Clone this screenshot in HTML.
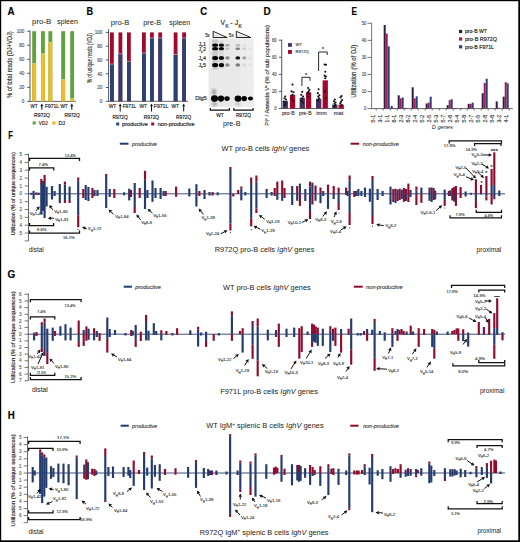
<!DOCTYPE html>
<html><head><meta charset="utf-8"><title>Figure</title>
<style>html,body{margin:0;padding:0;background:#fff;}svg{display:block;}
text{font-family:"Liberation Sans", sans-serif;stroke:#2a2a2a;stroke-width:0.16px;} text.ns{stroke:none;} text.lt{stroke:#555;stroke-width:0.12px;}</style></head>
<body><svg width="520" height="542" viewBox="0 0 520 542" font-family='"Liberation Sans", sans-serif' fill="#222">
<rect x="0" y="0" width="520" height="542" fill="#000"/>
<rect x="1.2" y="1.2" width="517.1" height="539.1" fill="#fff"/>
<text x="7.60" y="15.21" font-size="10.3" font-weight="bold" fill="#000" textLength="7.1" lengthAdjust="spacingAndGlyphs">A</text>
<text x="86.40" y="15.30" font-size="10.3" font-weight="bold" fill="#000" textLength="6.6" lengthAdjust="spacingAndGlyphs">B</text>
<text x="200.20" y="15.01" font-size="10.3" font-weight="bold" fill="#000" textLength="6.9" lengthAdjust="spacingAndGlyphs">C</text>
<text x="263.50" y="15.41" font-size="10.3" font-weight="bold" fill="#000" textLength="7.2" lengthAdjust="spacingAndGlyphs">D</text>
<text x="351.60" y="15.30" font-size="10.3" font-weight="bold" fill="#000" textLength="5.5" lengthAdjust="spacingAndGlyphs">E</text>
<text x="8.30" y="138.70" font-size="10.3" font-weight="bold" fill="#000" textLength="4.6" lengthAdjust="spacingAndGlyphs">F</text>
<text x="7.50" y="277.91" font-size="10.3" font-weight="bold" fill="#000" textLength="7.8" lengthAdjust="spacingAndGlyphs">G</text>
<text x="7.80" y="419.31" font-size="10.3" font-weight="bold" fill="#000" textLength="7.0" lengthAdjust="spacingAndGlyphs">H</text>
<line x1="30.00" y1="30.70" x2="30.00" y2="101.40" stroke="#444" stroke-width="0.9"/>
<line x1="27.20" y1="101.40" x2="30.00" y2="101.40" stroke="#444" stroke-width="0.9"/>
<text x="24.40" y="103.22" font-size="5.2" text-anchor="end" fill="#444" textLength="2.548" lengthAdjust="spacingAndGlyphs" class="lt">0</text>
<line x1="27.20" y1="87.36" x2="30.00" y2="87.36" stroke="#444" stroke-width="0.9"/>
<text x="24.40" y="89.18" font-size="5.2" text-anchor="end" fill="#444" textLength="5.096" lengthAdjust="spacingAndGlyphs" class="lt">20</text>
<line x1="27.20" y1="73.32" x2="30.00" y2="73.32" stroke="#444" stroke-width="0.9"/>
<text x="24.40" y="75.14" font-size="5.2" text-anchor="end" fill="#444" textLength="5.096" lengthAdjust="spacingAndGlyphs" class="lt">40</text>
<line x1="27.20" y1="59.28" x2="30.00" y2="59.28" stroke="#444" stroke-width="0.9"/>
<text x="24.40" y="61.10" font-size="5.2" text-anchor="end" fill="#444" textLength="5.096" lengthAdjust="spacingAndGlyphs" class="lt">60</text>
<line x1="27.20" y1="45.24" x2="30.00" y2="45.24" stroke="#444" stroke-width="0.9"/>
<text x="24.40" y="47.06" font-size="5.2" text-anchor="end" fill="#444" textLength="5.096" lengthAdjust="spacingAndGlyphs" class="lt">80</text>
<line x1="27.20" y1="31.20" x2="30.00" y2="31.20" stroke="#444" stroke-width="0.9"/>
<text x="24.40" y="33.02" font-size="5.2" text-anchor="end" fill="#444" textLength="7.644" lengthAdjust="spacingAndGlyphs" class="lt">100</text>
<line x1="29.50" y1="101.40" x2="76.00" y2="101.40" stroke="#555" stroke-width="0.9"/>
<rect x="32.20" y="31.20" width="3.90" height="70.20" fill="#62a23e"/>
<rect x="32.20" y="63.49" width="3.90" height="37.91" fill="#ecbc2e"/>
<line x1="32.20" y1="63.49" x2="36.10" y2="63.49" stroke="#f7eeb0" stroke-width="0.5"/>
<rect x="41.00" y="31.20" width="3.90" height="70.20" fill="#62a23e"/>
<rect x="41.00" y="53.66" width="3.90" height="47.74" fill="#ecbc2e"/>
<line x1="41.00" y1="53.66" x2="44.90" y2="53.66" stroke="#f7eeb0" stroke-width="0.5"/>
<rect x="48.40" y="31.20" width="3.90" height="70.20" fill="#62a23e"/>
<rect x="48.40" y="42.43" width="3.90" height="58.97" fill="#ecbc2e"/>
<line x1="48.40" y1="42.43" x2="52.30" y2="42.43" stroke="#f7eeb0" stroke-width="0.5"/>
<rect x="61.20" y="31.20" width="3.90" height="70.20" fill="#62a23e"/>
<rect x="61.20" y="79.64" width="3.90" height="21.76" fill="#ecbc2e"/>
<line x1="61.20" y1="79.64" x2="65.10" y2="79.64" stroke="#f7eeb0" stroke-width="0.5"/>
<rect x="70.20" y="31.20" width="3.90" height="70.20" fill="#62a23e"/>
<rect x="70.20" y="98.59" width="3.90" height="2.81" fill="#ecbc2e"/>
<line x1="70.20" y1="98.59" x2="74.10" y2="98.59" stroke="#f7eeb0" stroke-width="0.5"/>
<text x="32.00" y="24.18" font-size="6.8" fill="#222" textLength="19.3" lengthAdjust="spacingAndGlyphs" class="ns">pro-B</text>
<text x="57.00" y="24.18" font-size="6.8" fill="#222" textLength="21" lengthAdjust="spacingAndGlyphs" class="ns">spleen</text>
<text x="9.90" y="66.98" font-size="6.8" text-anchor="middle" fill="#444" textLength="66.7" lengthAdjust="spacingAndGlyphs" transform="rotate(-90 9.90 64.60)">% of total reads (DJ+VDJ)</text>
<text x="30.50" y="107.85" font-size="5" fill="#222" textLength="7" lengthAdjust="spacingAndGlyphs">WT</text>
<line x1="41.80" y1="109.80" x2="41.80" y2="105.93" stroke="#111" stroke-width="1.0"/>
<path d="M41.80,103.50 L43.27,106.23 L40.33,106.23 Z" fill="#111"/>
<text x="44.90" y="107.85" font-size="5" fill="#222" textLength="14.1" lengthAdjust="spacingAndGlyphs">F971L</text>
<text x="60.40" y="107.85" font-size="5" fill="#222" textLength="7.3" lengthAdjust="spacingAndGlyphs">WT</text>
<line x1="71.80" y1="109.80" x2="71.80" y2="105.93" stroke="#111" stroke-width="1.0"/>
<path d="M71.80,103.50 L73.27,106.23 L70.33,106.23 Z" fill="#111"/>
<text x="34.10" y="116.55" font-size="5" fill="#222" textLength="15.8" lengthAdjust="spacingAndGlyphs">R972Q</text>
<text x="64.40" y="116.55" font-size="5" fill="#222" textLength="15.5" lengthAdjust="spacingAndGlyphs">R972Q</text>
<rect x="32.60" y="121.40" width="3.10" height="3.10" fill="#62a23e"/>
<text x="38.80" y="124.65" font-size="5" fill="#222" textLength="8.8" lengthAdjust="spacingAndGlyphs">VDJ</text>
<rect x="52.20" y="121.40" width="3.30" height="3.10" fill="#ecbc2e"/>
<text x="58.40" y="124.65" font-size="5" fill="#222" textLength="6.7" lengthAdjust="spacingAndGlyphs">DJ</text>
<line x1="108.60" y1="29.20" x2="108.60" y2="101.30" stroke="#444" stroke-width="0.9"/>
<line x1="105.80" y1="101.30" x2="108.60" y2="101.30" stroke="#444" stroke-width="0.9"/>
<text x="102.40" y="103.12" font-size="5.2" text-anchor="end" fill="#444" textLength="2.548" lengthAdjust="spacingAndGlyphs" class="lt">0</text>
<line x1="105.80" y1="87.52" x2="108.60" y2="87.52" stroke="#444" stroke-width="0.9"/>
<text x="102.40" y="89.34" font-size="5.2" text-anchor="end" fill="#444" textLength="5.096" lengthAdjust="spacingAndGlyphs" class="lt">20</text>
<line x1="105.80" y1="73.74" x2="108.60" y2="73.74" stroke="#444" stroke-width="0.9"/>
<text x="102.40" y="75.56" font-size="5.2" text-anchor="end" fill="#444" textLength="5.096" lengthAdjust="spacingAndGlyphs" class="lt">40</text>
<line x1="105.80" y1="59.96" x2="108.60" y2="59.96" stroke="#444" stroke-width="0.9"/>
<text x="102.40" y="61.78" font-size="5.2" text-anchor="end" fill="#444" textLength="5.096" lengthAdjust="spacingAndGlyphs" class="lt">60</text>
<line x1="105.80" y1="46.18" x2="108.60" y2="46.18" stroke="#444" stroke-width="0.9"/>
<text x="102.40" y="48.00" font-size="5.2" text-anchor="end" fill="#444" textLength="5.096" lengthAdjust="spacingAndGlyphs" class="lt">80</text>
<line x1="105.80" y1="32.40" x2="108.60" y2="32.40" stroke="#444" stroke-width="0.9"/>
<text x="102.40" y="34.22" font-size="5.2" text-anchor="end" fill="#444" textLength="7.644" lengthAdjust="spacingAndGlyphs" class="lt">100</text>
<line x1="108.10" y1="101.30" x2="188.00" y2="101.30" stroke="#555" stroke-width="0.9"/>
<rect x="110.00" y="32.40" width="3.80" height="68.90" fill="#a00a2d"/>
<rect x="110.00" y="64.09" width="3.80" height="37.21" fill="#2b4372"/>
<line x1="110.00" y1="64.09" x2="113.80" y2="64.09" stroke="#f2c8d0" stroke-width="0.6"/>
<rect x="118.50" y="32.40" width="3.80" height="68.90" fill="#a00a2d"/>
<rect x="118.50" y="53.76" width="3.80" height="47.54" fill="#2b4372"/>
<line x1="118.50" y1="53.76" x2="122.30" y2="53.76" stroke="#f2c8d0" stroke-width="0.6"/>
<rect x="127.00" y="32.40" width="3.80" height="68.90" fill="#a00a2d"/>
<rect x="127.00" y="61.34" width="3.80" height="39.96" fill="#2b4372"/>
<line x1="127.00" y1="61.34" x2="130.80" y2="61.34" stroke="#f2c8d0" stroke-width="0.6"/>
<rect x="142.00" y="32.40" width="3.80" height="68.90" fill="#a00a2d"/>
<rect x="142.00" y="53.07" width="3.80" height="48.23" fill="#2b4372"/>
<line x1="142.00" y1="53.07" x2="145.80" y2="53.07" stroke="#f2c8d0" stroke-width="0.6"/>
<rect x="150.00" y="32.40" width="3.80" height="68.90" fill="#a00a2d"/>
<rect x="150.00" y="37.91" width="3.80" height="63.39" fill="#2b4372"/>
<line x1="150.00" y1="37.91" x2="153.80" y2="37.91" stroke="#f2c8d0" stroke-width="0.6"/>
<rect x="158.30" y="32.40" width="3.80" height="68.90" fill="#a00a2d"/>
<rect x="158.30" y="37.91" width="3.80" height="63.39" fill="#2b4372"/>
<line x1="158.30" y1="37.91" x2="162.10" y2="37.91" stroke="#f2c8d0" stroke-width="0.6"/>
<rect x="173.70" y="32.40" width="3.80" height="68.90" fill="#a00a2d"/>
<rect x="173.70" y="54.45" width="3.80" height="46.85" fill="#2b4372"/>
<line x1="173.70" y1="54.45" x2="177.50" y2="54.45" stroke="#f2c8d0" stroke-width="0.6"/>
<rect x="182.20" y="32.40" width="3.80" height="68.90" fill="#a00a2d"/>
<rect x="182.20" y="37.91" width="3.80" height="63.39" fill="#2b4372"/>
<line x1="182.20" y1="37.91" x2="186.00" y2="37.91" stroke="#f2c8d0" stroke-width="0.6"/>
<text x="110.70" y="24.78" font-size="6.8" fill="#222" textLength="18.5" lengthAdjust="spacingAndGlyphs" class="ns">pro-B</text>
<text x="143.20" y="24.78" font-size="6.8" fill="#222" textLength="18" lengthAdjust="spacingAndGlyphs" class="ns">pre-B</text>
<text x="169.20" y="24.78" font-size="6.8" fill="#222" textLength="21" lengthAdjust="spacingAndGlyphs" class="ns">spleen</text>
<text x="89.30" y="60.51" font-size="6.6" text-anchor="middle" fill="#444" textLength="49.8" lengthAdjust="spacingAndGlyphs" transform="rotate(-90 89.30 58.20)">% of unique reads (VDJ)</text>
<text x="108.70" y="108.45" font-size="5" fill="#222" textLength="7.6" lengthAdjust="spacingAndGlyphs">WT</text>
<text x="139.40" y="108.45" font-size="5" fill="#222" textLength="7.6" lengthAdjust="spacingAndGlyphs">WT</text>
<text x="171.50" y="108.45" font-size="5" fill="#222" textLength="7.5" lengthAdjust="spacingAndGlyphs">WT</text>
<line x1="120.20" y1="111.50" x2="120.20" y2="105.83" stroke="#111" stroke-width="1.0"/>
<path d="M120.20,103.40 L121.67,106.13 L118.73,106.13 Z" fill="#111"/>
<line x1="151.50" y1="111.50" x2="151.50" y2="105.83" stroke="#111" stroke-width="1.0"/>
<path d="M151.50,103.40 L152.97,106.13 L150.03,106.13 Z" fill="#111"/>
<line x1="183.70" y1="111.50" x2="183.70" y2="105.83" stroke="#111" stroke-width="1.0"/>
<path d="M183.70,103.40 L185.17,106.13 L182.23,106.13 Z" fill="#111"/>
<text x="122.70" y="108.45" font-size="5" fill="#222" textLength="13.5" lengthAdjust="spacingAndGlyphs">F971L</text>
<text x="153.80" y="108.45" font-size="5" fill="#222" textLength="14.5" lengthAdjust="spacingAndGlyphs">F971L</text>
<text x="112.50" y="118.55" font-size="5" fill="#222" textLength="15.3" lengthAdjust="spacingAndGlyphs">R972Q</text>
<text x="143.80" y="118.55" font-size="5" fill="#222" textLength="15.3" lengthAdjust="spacingAndGlyphs">R972Q</text>
<text x="176.00" y="118.55" font-size="5" fill="#222" textLength="15.3" lengthAdjust="spacingAndGlyphs">R972Q</text>
<rect x="116.20" y="122.50" width="3.00" height="3.00" fill="#2b4372"/>
<text x="122.10" y="125.75" font-size="5" fill="#222" textLength="25.9" lengthAdjust="spacingAndGlyphs">productive</text>
<rect x="151.20" y="122.50" width="3.00" height="3.00" fill="#a00a2d"/>
<text x="157.70" y="125.75" font-size="5" fill="#222" textLength="36.9" lengthAdjust="spacingAndGlyphs">non-productive</text>
<defs><filter id="bl" x="-50%" y="-50%" width="200%" height="200%"><feGaussianBlur stdDeviation="0.55"/></filter><filter id="bl2" x="-50%" y="-50%" width="200%" height="200%"><feGaussianBlur stdDeviation="1.2"/></filter><linearGradient id="tri" x1="0" x2="1" y1="1" y2="0"><stop offset="0" stop-color="#d4d4d4"/><stop offset="0.6" stop-color="#fff"/></linearGradient></defs>
<rect x="208.60" y="38.40" width="44.80" height="68.40" fill="#e9e9e9"/>
<rect x="240.40" y="38.40" width="13.00" height="68.40" fill="#ededed"/>
<text x="220.60" y="25.05" font-size="7" fill="#222" textLength="4.5" lengthAdjust="spacingAndGlyphs">V</text>
<text x="225.50" y="27.91" font-size="4.9" fill="#222" textLength="3.2" lengthAdjust="spacingAndGlyphs">K</text>
<text x="230.20" y="24.98" font-size="6.8" fill="#222">-</text>
<text x="234.80" y="25.05" font-size="7" fill="#222" textLength="3.4" lengthAdjust="spacingAndGlyphs">J</text>
<text x="238.60" y="27.91" font-size="4.9" fill="#222" textLength="3.4" lengthAdjust="spacingAndGlyphs">K</text>
<path d="M213.1,31.3 L227.2,37.5 L213.1,37.5 Z" fill="url(#tri)" stroke="#111" stroke-width="0.9"/>
<path d="M236.3,31.3 L250.8,37.5 L236.3,37.5 Z" fill="url(#tri)" stroke="#111" stroke-width="0.9"/>
<text x="205.20" y="37.09" font-size="5.4" fill="#222" textLength="4.6" lengthAdjust="spacingAndGlyphs">5x</text>
<text x="228.80" y="37.09" font-size="5.4" fill="#222" textLength="5.0" lengthAdjust="spacingAndGlyphs">5x</text>
<text x="198.40" y="45.79" font-size="5.4" fill="#222">J</text>
<text x="201.00" y="47.29" font-size="3.4" fill="#222">κ</text>
<text x="203.00" y="45.79" font-size="5.4" fill="#222">1</text>
<text x="198.40" y="51.09" font-size="5.4" fill="#222">J</text>
<text x="201.00" y="52.59" font-size="3.4" fill="#222">κ</text>
<text x="203.00" y="51.09" font-size="5.4" fill="#222">2</text>
<text x="198.40" y="59.69" font-size="5.4" fill="#222">J</text>
<text x="201.00" y="61.19" font-size="3.4" fill="#222">κ</text>
<text x="203.00" y="59.69" font-size="5.4" fill="#222">4</text>
<text x="198.40" y="66.79" font-size="5.4" fill="#222">J</text>
<text x="201.00" y="68.29" font-size="3.4" fill="#222">κ</text>
<text x="203.00" y="66.79" font-size="5.4" fill="#222">5</text>
<ellipse cx="215.1" cy="45.2" rx="3.00" ry="1.60" fill="#000" opacity="1.0" filter="url(#bl)"/>
<ellipse cx="215.1" cy="48.7" rx="3.00" ry="1.60" fill="#000" opacity="1.0" filter="url(#bl)"/>
<ellipse cx="215.1" cy="57.9" rx="3.00" ry="2.00" fill="#000" opacity="1.0" filter="url(#bl)"/>
<ellipse cx="215.1" cy="65.1" rx="3.00" ry="2.20" fill="#000" opacity="1.0" filter="url(#bl)"/>
<ellipse cx="221.4" cy="45.2" rx="2.70" ry="1.60" fill="#000" opacity="0.95" filter="url(#bl)"/>
<ellipse cx="221.4" cy="48.7" rx="2.70" ry="1.60" fill="#000" opacity="0.95" filter="url(#bl)"/>
<ellipse cx="221.4" cy="57.9" rx="2.70" ry="2.00" fill="#000" opacity="0.95" filter="url(#bl)"/>
<ellipse cx="221.4" cy="65.1" rx="2.70" ry="2.20" fill="#000" opacity="0.95" filter="url(#bl)"/>
<ellipse cx="227.4" cy="45.2" rx="2.30" ry="1.28" fill="#000" opacity="0.3" filter="url(#bl)"/>
<ellipse cx="227.4" cy="48.7" rx="2.30" ry="1.28" fill="#000" opacity="0.15" filter="url(#bl)"/>
<ellipse cx="227.4" cy="57.9" rx="2.30" ry="1.60" fill="#000" opacity="0.4" filter="url(#bl)"/>
<ellipse cx="227.4" cy="65.1" rx="2.30" ry="1.76" fill="#000" opacity="0.4" filter="url(#bl)"/>
<ellipse cx="237.8" cy="45.2" rx="2.40" ry="1.28" fill="#000" opacity="0.2" filter="url(#bl)"/>
<ellipse cx="237.8" cy="48.7" rx="2.40" ry="1.28" fill="#000" opacity="0.45" filter="url(#bl)"/>
<ellipse cx="237.8" cy="57.9" rx="2.40" ry="1.60" fill="#000" opacity="0.95" filter="url(#bl)"/>
<ellipse cx="237.8" cy="65.1" rx="2.40" ry="1.76" fill="#000" opacity="0.45" filter="url(#bl)"/>
<ellipse cx="244.3" cy="45.2" rx="2.10" ry="1.28" fill="#000" opacity="0.06" filter="url(#bl)"/>
<ellipse cx="244.3" cy="48.7" rx="2.10" ry="1.28" fill="#000" opacity="0.12" filter="url(#bl)"/>
<ellipse cx="244.3" cy="57.9" rx="2.10" ry="1.60" fill="#000" opacity="0.3" filter="url(#bl)"/>
<ellipse cx="244.3" cy="65.1" rx="2.10" ry="1.76" fill="#000" opacity="0.08" filter="url(#bl)"/>
<ellipse cx="250.2" cy="48.7" rx="1.90" ry="1.28" fill="#000" opacity="0.03" filter="url(#bl)"/>
<ellipse cx="250.2" cy="57.9" rx="1.90" ry="1.60" fill="#000" opacity="0.04" filter="url(#bl)"/>
<ellipse cx="250.2" cy="65.1" rx="1.90" ry="1.76" fill="#000" opacity="0.03" filter="url(#bl)"/>
<rect x="212.3" y="39.5" width="5.6" height="30" fill="#000" opacity="0.13" filter="url(#bl)"/>
<rect x="218.8" y="40.5" width="5.0" height="28" fill="#000" opacity="0.06" filter="url(#bl)"/>
<ellipse cx="214.5" cy="98.6" rx="3.50" ry="3.30" fill="#000" opacity="1" filter="url(#bl)"/>
<ellipse cx="221.0" cy="98.6" rx="3.10" ry="3.10" fill="#000" opacity="1" filter="url(#bl)"/>
<ellipse cx="227.0" cy="98.6" rx="2.70" ry="2.30" fill="#000" opacity="1" filter="url(#bl)"/>
<ellipse cx="238.0" cy="98.6" rx="3.40" ry="3.20" fill="#000" opacity="1" filter="url(#bl)"/>
<ellipse cx="244.2" cy="98.6" rx="2.80" ry="2.70" fill="#000" opacity="1" filter="url(#bl)"/>
<ellipse cx="250.5" cy="98.6" rx="2.60" ry="2.00" fill="#000" opacity="1" filter="url(#bl)"/>
<ellipse cx="214.0" cy="92.0" rx="2.2" ry="3.0" fill="#000" opacity="0.3" filter="url(#bl2)"/>
<ellipse cx="214.5" cy="104.0" rx="2.6" ry="2.2" fill="#000" opacity="0.25" filter="url(#bl2)"/>
<ellipse cx="238.0" cy="104.0" rx="2.4" ry="2.0" fill="#000" opacity="0.15" filter="url(#bl2)"/>
<text x="195.20" y="100.02" font-size="5.2" fill="#222" textLength="11.5" lengthAdjust="spacingAndGlyphs">Dlg5</text>
<path d="M210.3,107.9 V110.2 H229.4 V107.9" stroke="#111" stroke-width="1.2" fill="none"/>
<path d="M233.8,107.9 V110.2 H253.1 V107.9" stroke="#111" stroke-width="1.2" fill="none"/>
<text x="220.00" y="117.35" font-size="5" text-anchor="middle" fill="#222" textLength="7.5" lengthAdjust="spacingAndGlyphs">WT</text>
<text x="243.40" y="117.35" font-size="5" text-anchor="middle" fill="#222" textLength="15" lengthAdjust="spacingAndGlyphs">R972Q</text>
<text x="223.00" y="125.58" font-size="6.8" fill="#222" textLength="17.5" lengthAdjust="spacingAndGlyphs" class="ns">pre-B</text>
<line x1="281.70" y1="39.70" x2="281.70" y2="108.50" stroke="#444" stroke-width="0.9"/>
<line x1="278.90" y1="108.50" x2="281.70" y2="108.50" stroke="#444" stroke-width="0.9"/>
<text x="276.60" y="110.18" font-size="4.8" text-anchor="end" fill="#444" textLength="2.352" lengthAdjust="spacingAndGlyphs" class="lt">0</text>
<line x1="278.90" y1="91.42" x2="281.70" y2="91.42" stroke="#444" stroke-width="0.9"/>
<text x="276.60" y="93.11" font-size="4.8" text-anchor="end" fill="#444" textLength="4.704" lengthAdjust="spacingAndGlyphs" class="lt">20</text>
<line x1="278.90" y1="74.35" x2="281.70" y2="74.35" stroke="#444" stroke-width="0.9"/>
<text x="276.60" y="76.03" font-size="4.8" text-anchor="end" fill="#444" textLength="4.704" lengthAdjust="spacingAndGlyphs" class="lt">40</text>
<line x1="278.90" y1="57.27" x2="281.70" y2="57.27" stroke="#444" stroke-width="0.9"/>
<text x="276.60" y="58.95" font-size="4.8" text-anchor="end" fill="#444" textLength="4.704" lengthAdjust="spacingAndGlyphs" class="lt">60</text>
<line x1="278.90" y1="40.20" x2="281.70" y2="40.20" stroke="#444" stroke-width="0.9"/>
<text x="276.60" y="41.88" font-size="4.8" text-anchor="end" fill="#444" textLength="4.704" lengthAdjust="spacingAndGlyphs" class="lt">80</text>
<line x1="281.20" y1="108.50" x2="344.00" y2="108.50" stroke="#555" stroke-width="0.9"/>
<rect x="282.60" y="100.82" width="5.30" height="7.68" fill="#45325c"/>
<rect x="289.90" y="94.84" width="5.30" height="13.66" fill="#a5062b"/>
<rect x="299.60" y="97.83" width="5.30" height="10.67" fill="#45325c"/>
<rect x="305.90" y="92.28" width="5.30" height="16.22" fill="#a5062b"/>
<rect x="316.00" y="98.68" width="5.30" height="9.82" fill="#45325c"/>
<rect x="322.60" y="80.33" width="5.30" height="28.17" fill="#a5062b"/>
<rect x="332.20" y="104.66" width="5.30" height="3.84" fill="#45325c"/>
<rect x="338.50" y="104.66" width="5.30" height="3.84" fill="#a5062b"/>
<circle cx="285.20" cy="96.55" r="1.05" fill="#111"/>
<circle cx="284.40" cy="98.25" r="1.05" fill="#111"/>
<circle cx="286.00" cy="99.54" r="1.05" fill="#111"/>
<circle cx="284.10" cy="101.67" r="1.05" fill="#111"/>
<circle cx="285.80" cy="103.38" r="1.05" fill="#111"/>
<circle cx="284.80" cy="105.08" r="1.05" fill="#111"/>
<circle cx="292.50" cy="84.59" r="1.05" fill="#111"/>
<circle cx="291.50" cy="91.42" r="1.05" fill="#111"/>
<circle cx="293.50" cy="92.28" r="1.05" fill="#111"/>
<circle cx="292.50" cy="94.84" r="1.05" fill="#111"/>
<circle cx="291.70" cy="98.25" r="1.05" fill="#111"/>
<circle cx="293.30" cy="100.82" r="1.05" fill="#111"/>
<circle cx="302.20" cy="91.85" r="1.05" fill="#111"/>
<circle cx="301.30" cy="94.84" r="1.05" fill="#111"/>
<circle cx="303.10" cy="96.55" r="1.05" fill="#111"/>
<circle cx="302.10" cy="98.25" r="1.05" fill="#111"/>
<circle cx="301.40" cy="100.82" r="1.05" fill="#111"/>
<circle cx="302.80" cy="102.52" r="1.05" fill="#111"/>
<circle cx="308.10" cy="88.01" r="1.05" fill="#111"/>
<circle cx="309.50" cy="89.72" r="1.05" fill="#111"/>
<circle cx="308.60" cy="91.42" r="1.05" fill="#111"/>
<circle cx="307.70" cy="92.71" r="1.05" fill="#111"/>
<circle cx="309.30" cy="93.99" r="1.05" fill="#111"/>
<circle cx="308.50" cy="96.55" r="1.05" fill="#111"/>
<circle cx="318.60" cy="89.29" r="1.05" fill="#111"/>
<circle cx="317.80" cy="93.13" r="1.05" fill="#111"/>
<circle cx="319.40" cy="95.27" r="1.05" fill="#111"/>
<circle cx="318.20" cy="96.55" r="1.05" fill="#111"/>
<circle cx="319.00" cy="98.25" r="1.05" fill="#111"/>
<circle cx="318.00" cy="100.82" r="1.05" fill="#111"/>
<circle cx="324.60" cy="64.53" r="1.05" fill="#111"/>
<circle cx="326.00" cy="64.79" r="1.05" fill="#111"/>
<circle cx="325.30" cy="71.79" r="1.05" fill="#111"/>
<circle cx="324.60" cy="75.63" r="1.05" fill="#111"/>
<circle cx="326.00" cy="76.48" r="1.05" fill="#111"/>
<circle cx="325.20" cy="78.19" r="1.05" fill="#111"/>
<circle cx="324.80" cy="91.42" r="1.05" fill="#111"/>
<circle cx="325.80" cy="98.25" r="1.05" fill="#111"/>
<circle cx="334.80" cy="99.54" r="1.05" fill="#111"/>
<circle cx="334.00" cy="101.24" r="1.05" fill="#111"/>
<circle cx="335.60" cy="102.52" r="1.05" fill="#111"/>
<circle cx="334.40" cy="103.80" r="1.05" fill="#111"/>
<circle cx="335.40" cy="105.08" r="1.05" fill="#111"/>
<circle cx="334.20" cy="106.37" r="1.05" fill="#111"/>
<circle cx="341.50" cy="96.12" r="1.05" fill="#111"/>
<circle cx="340.50" cy="97.40" r="1.05" fill="#111"/>
<circle cx="342.10" cy="99.96" r="1.05" fill="#111"/>
<circle cx="341.10" cy="101.67" r="1.05" fill="#111"/>
<circle cx="340.30" cy="103.38" r="1.05" fill="#111"/>
<circle cx="341.70" cy="105.08" r="1.05" fill="#111"/>
<rect x="288.00" y="43.10" width="3.90" height="3.70" fill="#45325c"/>
<text x="295.50" y="46.47" font-size="4.2" fill="#222" class="lt">WT</text>
<rect x="288.00" y="50.00" width="3.90" height="3.90" fill="#a5062b"/>
<text x="295.50" y="53.47" font-size="4.2" fill="#222" class="lt">R972Q</text>
<path d="M301.9,86 V77.3 H310.0 V80.8" stroke="#111" stroke-width="0.9" fill="none"/>
<text x="306.10" y="76.55" font-size="5" text-anchor="middle" fill="#222">*</text>
<path d="M318.6,71.0 V52 H327.2 V55" stroke="#111" stroke-width="0.9" fill="none"/>
<text x="322.90" y="50.95" font-size="5" text-anchor="middle" fill="#222">*</text>
<text x="288.40" y="115.25" font-size="5.0" text-anchor="middle" fill="#222" textLength="13" lengthAdjust="spacingAndGlyphs" class="lt">pro-B</text>
<text x="305.30" y="115.25" font-size="5.0" text-anchor="middle" fill="#222" textLength="12.5" lengthAdjust="spacingAndGlyphs" class="lt">pre-B</text>
<text x="321.60" y="115.25" font-size="5.0" text-anchor="middle" fill="#222" textLength="10.5" lengthAdjust="spacingAndGlyphs" class="lt">imm</text>
<text x="338.60" y="115.25" font-size="5.0" text-anchor="middle" fill="#222" textLength="9.5" lengthAdjust="spacingAndGlyphs" class="lt">mat</text>
<text x="267.2" y="75.4" font-size="6.2" fill="#444" text-anchor="middle" transform="rotate(-90 267.2 75.4)" textLength="100.5" lengthAdjust="spacingAndGlyphs" dy="1.7">PI<tspan font-size="3.5" dy="-1.6">+</tspan><tspan dy="1.6"> / Annexin V</tspan><tspan font-size="3.5" dy="-1.6">+</tspan><tspan dy="1.6"> (% of sub populations)</tspan></text>
<line x1="371.60" y1="22.80" x2="371.60" y2="108.60" stroke="#666" stroke-width="0.9"/>
<line x1="367.60" y1="108.60" x2="371.60" y2="108.60" stroke="#666" stroke-width="0.9"/>
<text x="366.40" y="110.28" font-size="4.8" text-anchor="end" fill="#444" textLength="2.352" lengthAdjust="spacingAndGlyphs" class="lt">0</text>
<line x1="367.60" y1="91.54" x2="371.60" y2="91.54" stroke="#666" stroke-width="0.9"/>
<text x="366.40" y="93.22" font-size="4.8" text-anchor="end" fill="#444" textLength="4.704" lengthAdjust="spacingAndGlyphs" class="lt">10</text>
<line x1="367.60" y1="74.48" x2="371.60" y2="74.48" stroke="#666" stroke-width="0.9"/>
<text x="366.40" y="76.16" font-size="4.8" text-anchor="end" fill="#444" textLength="4.704" lengthAdjust="spacingAndGlyphs" class="lt">20</text>
<line x1="367.60" y1="57.42" x2="371.60" y2="57.42" stroke="#666" stroke-width="0.9"/>
<text x="366.40" y="59.10" font-size="4.8" text-anchor="end" fill="#444" textLength="4.704" lengthAdjust="spacingAndGlyphs" class="lt">30</text>
<line x1="367.60" y1="40.36" x2="371.60" y2="40.36" stroke="#666" stroke-width="0.9"/>
<text x="366.40" y="42.04" font-size="4.8" text-anchor="end" fill="#444" textLength="4.704" lengthAdjust="spacingAndGlyphs" class="lt">40</text>
<line x1="367.60" y1="23.30" x2="371.60" y2="23.30" stroke="#666" stroke-width="0.9"/>
<text x="366.40" y="24.98" font-size="4.8" text-anchor="end" fill="#444" textLength="4.704" lengthAdjust="spacingAndGlyphs" class="lt">50</text>
<line x1="371.10" y1="108.60" x2="512.80" y2="108.60" stroke="#555" stroke-width="0.9"/>
<line x1="376.20" y1="108.60" x2="376.20" y2="110.60" stroke="#555" stroke-width="0.8"/>
<text x="372.70" y="120.42" font-size="5.2" text-anchor="middle" fill="#444" textLength="7.6" lengthAdjust="spacingAndGlyphs" transform="rotate(-90 372.70 118.60)">5-1</text>
<line x1="383.20" y1="108.60" x2="383.20" y2="110.60" stroke="#555" stroke-width="0.8"/>
<text x="379.70" y="120.42" font-size="5.2" text-anchor="middle" fill="#444" textLength="7.6" lengthAdjust="spacingAndGlyphs" transform="rotate(-90 379.70 118.60)">3-1</text>
<line x1="390.20" y1="108.60" x2="390.20" y2="110.60" stroke="#555" stroke-width="0.8"/>
<rect x="383.70" y="25.01" width="2.00" height="83.59" fill="#2e1c44"/>
<rect x="385.70" y="33.54" width="2.00" height="75.06" fill="#a51d4a"/>
<rect x="387.70" y="46.33" width="2.00" height="62.27" fill="#29427f"/>
<text x="386.70" y="120.42" font-size="5.2" text-anchor="middle" fill="#444" textLength="7.6" lengthAdjust="spacingAndGlyphs" transform="rotate(-90 386.70 118.60)">1-1</text>
<line x1="397.20" y1="108.60" x2="397.20" y2="110.60" stroke="#555" stroke-width="0.8"/>
<rect x="390.70" y="106.21" width="2.00" height="2.39" fill="#2e1c44"/>
<rect x="392.70" y="108.09" width="2.00" height="0.51" fill="#a51d4a"/>
<rect x="394.70" y="108.09" width="2.00" height="0.51" fill="#29427f"/>
<text x="393.70" y="120.42" font-size="5.2" text-anchor="middle" fill="#444" textLength="7.6" lengthAdjust="spacingAndGlyphs" transform="rotate(-90 393.70 118.60)">6-1</text>
<line x1="404.20" y1="108.60" x2="404.20" y2="110.60" stroke="#555" stroke-width="0.8"/>
<rect x="397.70" y="95.29" width="2.00" height="13.31" fill="#2e1c44"/>
<rect x="399.70" y="98.36" width="2.00" height="10.24" fill="#a51d4a"/>
<rect x="401.70" y="97.51" width="2.00" height="11.09" fill="#29427f"/>
<text x="400.70" y="120.42" font-size="5.2" text-anchor="middle" fill="#444" textLength="7.6" lengthAdjust="spacingAndGlyphs" transform="rotate(-90 400.70 118.60)">2-3</text>
<line x1="411.20" y1="108.60" x2="411.20" y2="110.60" stroke="#555" stroke-width="0.8"/>
<rect x="404.70" y="107.92" width="2.00" height="0.68" fill="#2e1c44"/>
<text x="407.70" y="120.42" font-size="5.2" text-anchor="middle" fill="#444" textLength="7.6" lengthAdjust="spacingAndGlyphs" transform="rotate(-90 407.70 118.60)">6-2</text>
<line x1="418.20" y1="108.60" x2="418.20" y2="110.60" stroke="#555" stroke-width="0.8"/>
<rect x="411.70" y="87.27" width="2.00" height="21.32" fill="#2e1c44"/>
<rect x="413.70" y="98.36" width="2.00" height="10.24" fill="#a51d4a"/>
<rect x="415.70" y="96.32" width="2.00" height="12.28" fill="#29427f"/>
<text x="414.70" y="120.42" font-size="5.2" text-anchor="middle" fill="#444" textLength="7.6" lengthAdjust="spacingAndGlyphs" transform="rotate(-90 414.70 118.60)">2-4</text>
<line x1="425.20" y1="108.60" x2="425.20" y2="110.60" stroke="#555" stroke-width="0.8"/>
<text x="421.70" y="120.42" font-size="5.2" text-anchor="middle" fill="#444" textLength="7.6" lengthAdjust="spacingAndGlyphs" transform="rotate(-90 421.70 118.60)">5-2</text>
<line x1="432.20" y1="108.60" x2="432.20" y2="110.60" stroke="#555" stroke-width="0.8"/>
<rect x="425.70" y="103.48" width="2.00" height="5.12" fill="#2e1c44"/>
<rect x="427.70" y="102.63" width="2.00" height="5.97" fill="#a51d4a"/>
<rect x="429.70" y="96.66" width="2.00" height="11.94" fill="#29427f"/>
<text x="428.70" y="120.42" font-size="5.2" text-anchor="middle" fill="#444" textLength="7.6" lengthAdjust="spacingAndGlyphs" transform="rotate(-90 428.70 118.60)">2-5</text>
<line x1="439.20" y1="108.60" x2="439.20" y2="110.60" stroke="#555" stroke-width="0.8"/>
<text x="435.70" y="120.42" font-size="5.2" text-anchor="middle" fill="#444" textLength="7.6" lengthAdjust="spacingAndGlyphs" transform="rotate(-90 435.70 118.60)">5-3</text>
<line x1="446.20" y1="108.60" x2="446.20" y2="110.60" stroke="#555" stroke-width="0.8"/>
<text x="442.70" y="120.42" font-size="5.2" text-anchor="middle" fill="#444" textLength="7.6" lengthAdjust="spacingAndGlyphs" transform="rotate(-90 442.70 118.60)">5-7</text>
<line x1="453.20" y1="108.60" x2="453.20" y2="110.60" stroke="#555" stroke-width="0.8"/>
<rect x="446.70" y="105.19" width="2.00" height="3.41" fill="#2e1c44"/>
<rect x="448.70" y="100.07" width="2.00" height="8.53" fill="#a51d4a"/>
<rect x="450.70" y="99.22" width="2.00" height="9.38" fill="#29427f"/>
<text x="449.70" y="120.42" font-size="5.2" text-anchor="middle" fill="#444" textLength="7.6" lengthAdjust="spacingAndGlyphs" transform="rotate(-90 449.70 118.60)">2-6</text>
<line x1="460.20" y1="108.60" x2="460.20" y2="110.60" stroke="#555" stroke-width="0.8"/>
<rect x="453.70" y="108.09" width="2.00" height="0.51" fill="#2e1c44"/>
<rect x="455.70" y="108.09" width="2.00" height="0.51" fill="#a51d4a"/>
<text x="456.70" y="120.42" font-size="5.2" text-anchor="middle" fill="#444" textLength="7.6" lengthAdjust="spacingAndGlyphs" transform="rotate(-90 456.70 118.60)">5-4</text>
<line x1="467.20" y1="108.60" x2="467.20" y2="110.60" stroke="#555" stroke-width="0.8"/>
<rect x="460.70" y="108.09" width="2.00" height="0.51" fill="#2e1c44"/>
<text x="463.70" y="120.42" font-size="5.2" text-anchor="middle" fill="#444" textLength="7.6" lengthAdjust="spacingAndGlyphs" transform="rotate(-90 463.70 118.60)">5-8</text>
<line x1="474.20" y1="108.60" x2="474.20" y2="110.60" stroke="#555" stroke-width="0.8"/>
<rect x="467.70" y="103.82" width="2.00" height="4.78" fill="#2e1c44"/>
<rect x="469.70" y="103.82" width="2.00" height="4.78" fill="#a51d4a"/>
<rect x="471.70" y="102.63" width="2.00" height="5.97" fill="#29427f"/>
<text x="470.70" y="120.42" font-size="5.2" text-anchor="middle" fill="#444" textLength="7.6" lengthAdjust="spacingAndGlyphs" transform="rotate(-90 470.70 118.60)">2-7</text>
<line x1="481.20" y1="108.60" x2="481.20" y2="110.60" stroke="#555" stroke-width="0.8"/>
<text x="477.70" y="120.42" font-size="5.2" text-anchor="middle" fill="#444" textLength="7.6" lengthAdjust="spacingAndGlyphs" transform="rotate(-90 477.70 118.60)">5-5</text>
<line x1="488.20" y1="108.60" x2="488.20" y2="110.60" stroke="#555" stroke-width="0.8"/>
<rect x="481.70" y="93.25" width="2.00" height="15.35" fill="#2e1c44"/>
<rect x="483.70" y="83.01" width="2.00" height="25.59" fill="#a51d4a"/>
<rect x="485.70" y="78.74" width="2.00" height="29.86" fill="#29427f"/>
<text x="484.70" y="120.42" font-size="5.2" text-anchor="middle" fill="#444" textLength="7.6" lengthAdjust="spacingAndGlyphs" transform="rotate(-90 484.70 118.60)">2-8</text>
<line x1="495.20" y1="108.60" x2="495.20" y2="110.60" stroke="#555" stroke-width="0.8"/>
<text x="491.70" y="120.42" font-size="5.2" text-anchor="middle" fill="#444" textLength="7.6" lengthAdjust="spacingAndGlyphs" transform="rotate(-90 491.70 118.60)">5-6</text>
<line x1="502.20" y1="108.60" x2="502.20" y2="110.60" stroke="#555" stroke-width="0.8"/>
<rect x="495.70" y="101.43" width="2.00" height="7.17" fill="#2e1c44"/>
<rect x="497.70" y="107.92" width="2.00" height="0.68" fill="#a51d4a"/>
<text x="498.70" y="120.42" font-size="5.2" text-anchor="middle" fill="#444" textLength="7.6" lengthAdjust="spacingAndGlyphs" transform="rotate(-90 498.70 118.60)">3-2</text>
<line x1="509.20" y1="108.60" x2="509.20" y2="110.60" stroke="#555" stroke-width="0.8"/>
<rect x="502.70" y="96.66" width="2.00" height="11.94" fill="#2e1c44"/>
<rect x="504.70" y="82.16" width="2.00" height="26.44" fill="#a51d4a"/>
<rect x="506.70" y="83.35" width="2.00" height="25.25" fill="#29427f"/>
<text x="505.70" y="120.42" font-size="5.2" text-anchor="middle" fill="#444" textLength="7.6" lengthAdjust="spacingAndGlyphs" transform="rotate(-90 505.70 118.60)">4-1</text>
<text x="431.80" y="128.70" font-size="6" font-style="italic" fill="#222" textLength="21" lengthAdjust="spacingAndGlyphs" class="ns">D genes</text>
<text x="353.40" y="73.41" font-size="6.3" text-anchor="middle" fill="#444" textLength="53" lengthAdjust="spacingAndGlyphs" transform="rotate(-90 353.40 71.20)">Utilization (% of DJ)</text>
<rect x="459.00" y="29.90" width="3.20" height="3.20" fill="#2e1c44"/>
<text x="465.00" y="33.25" font-size="5" fill="#222" textLength="22" lengthAdjust="spacingAndGlyphs">pro-B WT</text>
<rect x="459.00" y="37.40" width="3.20" height="3.20" fill="#a51d4a"/>
<text x="465.00" y="40.75" font-size="5" fill="#222" textLength="32" lengthAdjust="spacingAndGlyphs">pro-B R972Q</text>
<rect x="459.00" y="45.20" width="3.20" height="3.20" fill="#29427f"/>
<text x="465.00" y="48.55" font-size="5" fill="#222" textLength="29" lengthAdjust="spacingAndGlyphs">pro-B F971L</text>
<line x1="28.50" y1="153.55" x2="28.50" y2="240.90" stroke="#555" stroke-width="0.9"/>
<line x1="24.70" y1="154.55" x2="28.50" y2="154.55" stroke="#555" stroke-width="0.8"/>
<text x="20.80" y="156.16" font-size="4.6" text-anchor="middle" fill="#555" class="lt">5</text>
<line x1="24.70" y1="162.40" x2="28.50" y2="162.40" stroke="#555" stroke-width="0.8"/>
<text x="20.80" y="164.01" font-size="4.6" text-anchor="middle" fill="#555" class="lt">4</text>
<line x1="24.70" y1="170.25" x2="28.50" y2="170.25" stroke="#555" stroke-width="0.8"/>
<text x="20.80" y="171.86" font-size="4.6" text-anchor="middle" fill="#555" class="lt">3</text>
<line x1="24.70" y1="178.10" x2="28.50" y2="178.10" stroke="#555" stroke-width="0.8"/>
<text x="20.80" y="179.71" font-size="4.6" text-anchor="middle" fill="#555" class="lt">2</text>
<line x1="24.70" y1="185.95" x2="28.50" y2="185.95" stroke="#555" stroke-width="0.8"/>
<text x="20.80" y="187.56" font-size="4.6" text-anchor="middle" fill="#555" class="lt">1</text>
<line x1="24.70" y1="193.80" x2="28.50" y2="193.80" stroke="#555" stroke-width="0.8"/>
<text x="20.80" y="195.41" font-size="4.6" text-anchor="middle" fill="#555" class="lt">0</text>
<line x1="24.70" y1="201.65" x2="28.50" y2="201.65" stroke="#555" stroke-width="0.8"/>
<text x="20.80" y="203.26" font-size="4.6" text-anchor="middle" fill="#555" class="lt">1</text>
<line x1="24.70" y1="209.50" x2="28.50" y2="209.50" stroke="#555" stroke-width="0.8"/>
<text x="20.80" y="211.11" font-size="4.6" text-anchor="middle" fill="#555" class="lt">2</text>
<line x1="24.70" y1="217.35" x2="28.50" y2="217.35" stroke="#555" stroke-width="0.8"/>
<text x="20.80" y="218.96" font-size="4.6" text-anchor="middle" fill="#555" class="lt">3</text>
<line x1="24.70" y1="225.20" x2="28.50" y2="225.20" stroke="#555" stroke-width="0.8"/>
<text x="20.80" y="226.81" font-size="4.6" text-anchor="middle" fill="#555" class="lt">4</text>
<line x1="24.70" y1="233.05" x2="28.50" y2="233.05" stroke="#555" stroke-width="0.8"/>
<text x="20.80" y="234.66" font-size="4.6" text-anchor="middle" fill="#555" class="lt">5</text>
<line x1="24.70" y1="240.90" x2="28.50" y2="240.90" stroke="#555" stroke-width="0.8"/>
<line x1="28.50" y1="193.80" x2="505.00" y2="193.80" stroke="#2b3a6b" stroke-width="0.9"/>
<text x="13.40" y="195.80" font-size="5.7" text-anchor="middle" fill="#222" textLength="83" lengthAdjust="spacingAndGlyphs" transform="rotate(-90 13.40 193.80)">Utilization (% of unique sequences)</text>
<rect x="32.52" y="190.90" width="2.15" height="2.90" fill="#243b6e"/>
<rect x="32.52" y="193.80" width="2.15" height="5.40" fill="#243b6e"/>
<rect x="35.22" y="192.50" width="2.15" height="1.30" fill="#8e0c2e"/>
<rect x="35.22" y="193.80" width="2.15" height="1.20" fill="#8e0c2e"/>
<rect x="30.32" y="192.80" width="2.15" height="1.00" fill="#243b6e"/>
<rect x="30.32" y="193.80" width="2.15" height="1.00" fill="#243b6e"/>
<rect x="37.52" y="192.60" width="2.15" height="1.20" fill="#243b6e"/>
<rect x="37.52" y="193.80" width="2.15" height="1.20" fill="#243b6e"/>
<rect x="40.22" y="185.00" width="2.15" height="8.80" fill="#243b6e"/>
<rect x="40.22" y="179.00" width="2.15" height="6.00" fill="#8e0c2e"/>
<rect x="40.22" y="193.80" width="2.15" height="20.20" fill="#243b6e"/>
<rect x="41.92" y="181.00" width="2.15" height="12.80" fill="#243b6e"/>
<rect x="41.92" y="193.80" width="2.15" height="17.20" fill="#243b6e"/>
<rect x="43.52" y="183.00" width="2.15" height="10.80" fill="#243b6e"/>
<rect x="43.52" y="175.00" width="2.15" height="8.00" fill="#8e0c2e"/>
<rect x="43.52" y="193.80" width="2.15" height="24.20" fill="#243b6e"/>
<rect x="45.52" y="186.80" width="2.15" height="7.00" fill="#243b6e"/>
<rect x="45.52" y="193.80" width="2.15" height="12.70" fill="#243b6e"/>
<rect x="50.92" y="186.00" width="2.15" height="7.80" fill="#243b6e"/>
<rect x="50.92" y="193.80" width="2.15" height="5.70" fill="#243b6e"/>
<rect x="53.52" y="191.00" width="2.15" height="2.80" fill="#243b6e"/>
<rect x="53.52" y="193.80" width="2.15" height="2.20" fill="#243b6e"/>
<rect x="58.72" y="184.00" width="2.15" height="9.80" fill="#243b6e"/>
<rect x="58.72" y="193.80" width="2.15" height="9.20" fill="#243b6e"/>
<rect x="63.83" y="184.60" width="2.15" height="9.20" fill="#243b6e"/>
<rect x="63.83" y="181.60" width="2.15" height="3.00" fill="#8e0c2e"/>
<rect x="63.83" y="193.80" width="2.15" height="6.20" fill="#243b6e"/>
<rect x="63.83" y="200.00" width="2.15" height="3.00" fill="#8e0c2e"/>
<rect x="68.52" y="186.60" width="2.15" height="7.20" fill="#243b6e"/>
<rect x="68.52" y="193.80" width="2.15" height="6.20" fill="#243b6e"/>
<rect x="68.52" y="200.00" width="2.15" height="3.00" fill="#8e0c2e"/>
<rect x="77.12" y="180.50" width="2.15" height="13.30" fill="#243b6e"/>
<rect x="77.12" y="177.50" width="2.15" height="3.00" fill="#8e0c2e"/>
<rect x="77.12" y="193.80" width="2.15" height="21.40" fill="#243b6e"/>
<rect x="77.12" y="215.20" width="2.15" height="12.00" fill="#8e0c2e"/>
<rect x="82.22" y="189.00" width="2.15" height="4.80" fill="#8e0c2e"/>
<rect x="82.22" y="193.80" width="2.15" height="4.20" fill="#8e0c2e"/>
<rect x="84.62" y="185.00" width="2.15" height="8.80" fill="#243b6e"/>
<rect x="84.62" y="193.80" width="2.15" height="6.20" fill="#243b6e"/>
<rect x="87.33" y="187.00" width="2.15" height="6.80" fill="#243b6e"/>
<rect x="87.33" y="193.80" width="2.15" height="7.20" fill="#243b6e"/>
<rect x="91.33" y="188.00" width="2.15" height="5.80" fill="#8e0c2e"/>
<rect x="91.33" y="193.80" width="2.15" height="4.20" fill="#8e0c2e"/>
<rect x="93.42" y="190.00" width="2.15" height="3.80" fill="#243b6e"/>
<rect x="93.42" y="193.80" width="2.15" height="2.20" fill="#243b6e"/>
<rect x="96.42" y="190.00" width="2.15" height="3.80" fill="#243b6e"/>
<rect x="96.42" y="193.80" width="2.15" height="2.20" fill="#243b6e"/>
<rect x="105.12" y="176.00" width="2.15" height="17.80" fill="#243b6e"/>
<rect x="105.12" y="174.00" width="2.15" height="2.00" fill="#8e0c2e"/>
<rect x="105.12" y="193.80" width="2.15" height="14.20" fill="#243b6e"/>
<rect x="108.62" y="189.00" width="2.15" height="4.80" fill="#243b6e"/>
<rect x="108.62" y="193.80" width="2.15" height="3.20" fill="#243b6e"/>
<rect x="113.22" y="189.00" width="2.15" height="4.80" fill="#8e0c2e"/>
<rect x="113.22" y="193.80" width="2.15" height="4.20" fill="#8e0c2e"/>
<rect x="123.02" y="192.30" width="2.15" height="1.50" fill="#243b6e"/>
<rect x="123.02" y="193.80" width="2.15" height="1.50" fill="#243b6e"/>
<rect x="128.12" y="188.70" width="2.15" height="5.10" fill="#243b6e"/>
<rect x="128.12" y="193.80" width="2.15" height="6.60" fill="#243b6e"/>
<rect x="129.83" y="190.00" width="2.15" height="3.80" fill="#8e0c2e"/>
<rect x="129.83" y="193.80" width="2.15" height="3.20" fill="#8e0c2e"/>
<rect x="133.62" y="183.00" width="2.15" height="10.80" fill="#243b6e"/>
<rect x="133.62" y="193.80" width="2.15" height="13.20" fill="#243b6e"/>
<rect x="133.62" y="207.00" width="2.15" height="6.00" fill="#8e0c2e"/>
<rect x="138.62" y="188.00" width="2.15" height="5.80" fill="#8e0c2e"/>
<rect x="138.62" y="193.80" width="2.15" height="4.20" fill="#8e0c2e"/>
<rect x="143.93" y="179.80" width="2.15" height="14.00" fill="#243b6e"/>
<rect x="143.93" y="170.80" width="2.15" height="9.00" fill="#8e0c2e"/>
<rect x="143.93" y="193.80" width="2.15" height="15.20" fill="#243b6e"/>
<rect x="146.33" y="190.00" width="2.15" height="3.80" fill="#243b6e"/>
<rect x="146.33" y="193.80" width="2.15" height="4.20" fill="#243b6e"/>
<rect x="151.43" y="180.50" width="2.15" height="13.30" fill="#243b6e"/>
<rect x="151.43" y="193.80" width="2.15" height="8.00" fill="#243b6e"/>
<rect x="154.43" y="188.00" width="2.15" height="5.80" fill="#243b6e"/>
<rect x="154.43" y="193.80" width="2.15" height="4.20" fill="#243b6e"/>
<rect x="159.53" y="188.00" width="2.15" height="5.80" fill="#243b6e"/>
<rect x="159.53" y="193.80" width="2.15" height="5.20" fill="#243b6e"/>
<rect x="162.53" y="191.00" width="2.15" height="2.80" fill="#243b6e"/>
<rect x="162.53" y="193.80" width="2.15" height="2.20" fill="#243b6e"/>
<rect x="164.62" y="191.00" width="2.15" height="2.80" fill="#8e0c2e"/>
<rect x="164.62" y="193.80" width="2.15" height="2.20" fill="#8e0c2e"/>
<rect x="175.03" y="186.60" width="2.15" height="7.20" fill="#8e0c2e"/>
<rect x="175.03" y="193.80" width="2.15" height="3.00" fill="#8e0c2e"/>
<rect x="188.23" y="188.50" width="2.15" height="5.30" fill="#243b6e"/>
<rect x="188.23" y="193.80" width="2.15" height="2.70" fill="#243b6e"/>
<rect x="195.33" y="184.20" width="2.15" height="9.60" fill="#243b6e"/>
<rect x="195.33" y="193.80" width="2.15" height="12.70" fill="#243b6e"/>
<rect x="198.33" y="191.00" width="2.15" height="2.80" fill="#8e0c2e"/>
<rect x="198.33" y="193.80" width="2.15" height="2.20" fill="#8e0c2e"/>
<rect x="203.43" y="190.00" width="2.15" height="3.80" fill="#243b6e"/>
<rect x="203.43" y="193.80" width="2.15" height="5.20" fill="#243b6e"/>
<rect x="208.43" y="192.00" width="2.15" height="1.80" fill="#243b6e"/>
<rect x="208.43" y="193.80" width="2.15" height="1.70" fill="#243b6e"/>
<rect x="211.53" y="192.00" width="2.15" height="1.80" fill="#8e0c2e"/>
<rect x="211.53" y="193.80" width="2.15" height="1.70" fill="#8e0c2e"/>
<rect x="216.62" y="192.30" width="2.15" height="1.50" fill="#243b6e"/>
<rect x="216.62" y="193.80" width="2.15" height="1.50" fill="#243b6e"/>
<rect x="229.33" y="169.00" width="2.15" height="24.80" fill="#243b6e"/>
<rect x="229.33" y="167.00" width="2.15" height="2.00" fill="#8e0c2e"/>
<rect x="229.33" y="193.80" width="2.15" height="29.70" fill="#243b6e"/>
<rect x="229.33" y="223.50" width="2.15" height="7.00" fill="#8e0c2e"/>
<rect x="232.23" y="193.80" width="2.15" height="2.70" fill="#8e0c2e"/>
<rect x="237.12" y="190.00" width="2.15" height="3.80" fill="#8e0c2e"/>
<rect x="240.23" y="188.50" width="2.15" height="5.30" fill="#243b6e"/>
<rect x="240.23" y="186.50" width="2.15" height="2.00" fill="#8e0c2e"/>
<rect x="240.23" y="193.80" width="2.15" height="6.60" fill="#243b6e"/>
<rect x="244.23" y="192.00" width="2.15" height="1.80" fill="#243b6e"/>
<rect x="244.23" y="193.80" width="2.15" height="1.70" fill="#243b6e"/>
<rect x="250.12" y="183.00" width="2.15" height="10.80" fill="#243b6e"/>
<rect x="250.12" y="177.50" width="2.15" height="5.50" fill="#8e0c2e"/>
<rect x="250.12" y="193.80" width="2.15" height="24.60" fill="#243b6e"/>
<rect x="250.12" y="218.40" width="2.15" height="8.00" fill="#8e0c2e"/>
<rect x="255.32" y="181.50" width="2.15" height="12.30" fill="#243b6e"/>
<rect x="255.32" y="175.50" width="2.15" height="6.00" fill="#8e0c2e"/>
<rect x="255.32" y="193.80" width="2.15" height="14.70" fill="#243b6e"/>
<rect x="255.32" y="208.50" width="2.15" height="4.50" fill="#8e0c2e"/>
<rect x="265.53" y="189.00" width="2.15" height="4.80" fill="#243b6e"/>
<rect x="265.53" y="193.80" width="2.15" height="4.20" fill="#243b6e"/>
<rect x="270.53" y="192.00" width="2.15" height="1.80" fill="#243b6e"/>
<rect x="270.53" y="193.80" width="2.15" height="1.70" fill="#243b6e"/>
<rect x="273.62" y="188.00" width="2.15" height="5.80" fill="#8e0c2e"/>
<rect x="273.62" y="193.80" width="2.15" height="2.20" fill="#8e0c2e"/>
<rect x="276.23" y="181.60" width="2.15" height="12.20" fill="#8e0c2e"/>
<rect x="276.23" y="193.80" width="2.15" height="6.00" fill="#243b6e"/>
<rect x="281.12" y="180.50" width="2.15" height="13.30" fill="#8e0c2e"/>
<rect x="281.12" y="193.80" width="2.15" height="7.00" fill="#243b6e"/>
<rect x="283.43" y="188.00" width="2.15" height="5.80" fill="#8e0c2e"/>
<rect x="283.43" y="193.80" width="2.15" height="4.20" fill="#8e0c2e"/>
<rect x="291.12" y="186.00" width="2.15" height="7.80" fill="#243b6e"/>
<rect x="291.12" y="193.80" width="2.15" height="11.20" fill="#243b6e"/>
<rect x="296.12" y="186.00" width="2.15" height="7.80" fill="#8e0c2e"/>
<rect x="296.12" y="193.80" width="2.15" height="7.00" fill="#243b6e"/>
<rect x="298.82" y="183.60" width="2.15" height="10.20" fill="#243b6e"/>
<rect x="298.82" y="193.80" width="2.15" height="12.10" fill="#8e0c2e"/>
<rect x="304.23" y="189.00" width="2.15" height="4.80" fill="#243b6e"/>
<rect x="304.23" y="193.80" width="2.15" height="7.20" fill="#243b6e"/>
<rect x="308.93" y="186.60" width="2.15" height="7.20" fill="#243b6e"/>
<rect x="308.93" y="181.60" width="2.15" height="5.00" fill="#8e0c2e"/>
<rect x="308.93" y="193.80" width="2.15" height="17.20" fill="#243b6e"/>
<rect x="308.93" y="211.00" width="2.15" height="8.00" fill="#8e0c2e"/>
<rect x="311.32" y="182.60" width="2.15" height="11.20" fill="#243b6e"/>
<rect x="311.32" y="193.80" width="2.15" height="10.70" fill="#8e0c2e"/>
<rect x="314.43" y="185.60" width="2.15" height="8.20" fill="#8e0c2e"/>
<rect x="314.43" y="193.80" width="2.15" height="7.00" fill="#243b6e"/>
<rect x="319.43" y="187.60" width="2.15" height="6.20" fill="#8e0c2e"/>
<rect x="319.43" y="193.80" width="2.15" height="9.40" fill="#243b6e"/>
<rect x="322.12" y="191.00" width="2.15" height="2.80" fill="#243b6e"/>
<rect x="322.12" y="193.80" width="2.15" height="2.20" fill="#243b6e"/>
<rect x="326.93" y="184.60" width="2.15" height="9.20" fill="#8e0c2e"/>
<rect x="326.93" y="193.80" width="2.15" height="15.10" fill="#243b6e"/>
<rect x="332.62" y="186.00" width="2.15" height="7.80" fill="#8e0c2e"/>
<rect x="332.62" y="193.80" width="2.15" height="5.20" fill="#243b6e"/>
<rect x="337.53" y="187.60" width="2.15" height="6.20" fill="#8e0c2e"/>
<rect x="337.53" y="193.80" width="2.15" height="9.20" fill="#243b6e"/>
<rect x="337.53" y="203.00" width="2.15" height="7.00" fill="#8e0c2e"/>
<rect x="345.03" y="187.60" width="2.15" height="6.20" fill="#8e0c2e"/>
<rect x="345.03" y="193.80" width="2.15" height="1.20" fill="#8e0c2e"/>
<rect x="346.53" y="191.00" width="2.15" height="2.80" fill="#243b6e"/>
<rect x="346.53" y="193.80" width="2.15" height="2.20" fill="#243b6e"/>
<rect x="348.53" y="180.50" width="2.15" height="13.30" fill="#243b6e"/>
<rect x="348.53" y="175.50" width="2.15" height="5.00" fill="#8e0c2e"/>
<rect x="348.53" y="193.80" width="2.15" height="19.30" fill="#243b6e"/>
<rect x="348.53" y="213.10" width="2.15" height="12.00" fill="#8e0c2e"/>
<rect x="353.23" y="191.00" width="2.15" height="2.80" fill="#8e0c2e"/>
<rect x="353.23" y="193.80" width="2.15" height="3.20" fill="#8e0c2e"/>
<rect x="354.82" y="191.00" width="2.15" height="2.80" fill="#243b6e"/>
<rect x="354.82" y="193.80" width="2.15" height="2.20" fill="#243b6e"/>
<rect x="357.23" y="189.00" width="2.15" height="4.80" fill="#243b6e"/>
<rect x="357.23" y="193.80" width="2.15" height="2.20" fill="#243b6e"/>
<rect x="360.32" y="191.00" width="2.15" height="2.80" fill="#243b6e"/>
<rect x="360.32" y="193.80" width="2.15" height="2.20" fill="#243b6e"/>
<rect x="363.93" y="187.60" width="2.15" height="6.20" fill="#243b6e"/>
<rect x="363.93" y="193.80" width="2.15" height="3.20" fill="#243b6e"/>
<rect x="368.82" y="188.70" width="2.15" height="5.10" fill="#243b6e"/>
<rect x="368.82" y="193.80" width="2.15" height="8.00" fill="#243b6e"/>
<rect x="371.43" y="180.00" width="2.15" height="13.80" fill="#243b6e"/>
<rect x="371.43" y="176.00" width="2.15" height="4.00" fill="#8e0c2e"/>
<rect x="371.43" y="193.80" width="2.15" height="22.20" fill="#243b6e"/>
<rect x="371.43" y="216.00" width="2.15" height="8.00" fill="#8e0c2e"/>
<rect x="376.53" y="189.00" width="2.15" height="4.80" fill="#243b6e"/>
<rect x="376.53" y="193.80" width="2.15" height="6.20" fill="#243b6e"/>
<rect x="381.53" y="191.00" width="2.15" height="2.80" fill="#243b6e"/>
<rect x="381.53" y="193.80" width="2.15" height="2.20" fill="#243b6e"/>
<rect x="389.43" y="186.60" width="2.15" height="7.20" fill="#243b6e"/>
<rect x="389.43" y="193.80" width="2.15" height="10.70" fill="#243b6e"/>
<rect x="392.23" y="189.00" width="2.15" height="4.80" fill="#8e0c2e"/>
<rect x="392.23" y="193.80" width="2.15" height="8.20" fill="#8e0c2e"/>
<rect x="394.43" y="188.70" width="2.15" height="5.10" fill="#8e0c2e"/>
<rect x="394.43" y="193.80" width="2.15" height="9.20" fill="#243b6e"/>
<rect x="396.53" y="189.50" width="2.15" height="4.30" fill="#243b6e"/>
<rect x="396.53" y="193.80" width="2.15" height="7.20" fill="#8e0c2e"/>
<rect x="398.62" y="188.70" width="2.15" height="5.10" fill="#8e0c2e"/>
<rect x="398.62" y="193.80" width="2.15" height="6.20" fill="#8e0c2e"/>
<rect x="400.73" y="189.70" width="2.15" height="4.10" fill="#243b6e"/>
<rect x="400.73" y="193.80" width="2.15" height="5.20" fill="#243b6e"/>
<rect x="402.82" y="188.00" width="2.15" height="5.80" fill="#8e0c2e"/>
<rect x="402.82" y="193.80" width="2.15" height="8.00" fill="#8e0c2e"/>
<rect x="404.93" y="189.00" width="2.15" height="4.80" fill="#8e0c2e"/>
<rect x="404.93" y="193.80" width="2.15" height="7.20" fill="#243b6e"/>
<rect x="407.32" y="183.60" width="2.15" height="10.20" fill="#8e0c2e"/>
<rect x="407.32" y="193.80" width="2.15" height="8.20" fill="#8e0c2e"/>
<rect x="409.43" y="190.00" width="2.15" height="3.80" fill="#243b6e"/>
<rect x="409.43" y="193.80" width="2.15" height="3.20" fill="#243b6e"/>
<rect x="415.32" y="190.60" width="2.15" height="3.20" fill="#243b6e"/>
<rect x="415.32" y="186.60" width="2.15" height="4.00" fill="#8e0c2e"/>
<rect x="415.32" y="193.80" width="2.15" height="11.20" fill="#8e0c2e"/>
<rect x="420.32" y="187.60" width="2.15" height="6.20" fill="#243b6e"/>
<rect x="420.32" y="193.80" width="2.15" height="9.00" fill="#8e0c2e"/>
<rect x="428.43" y="187.60" width="2.15" height="6.20" fill="#243b6e"/>
<rect x="428.43" y="193.80" width="2.15" height="7.00" fill="#243b6e"/>
<rect x="430.53" y="187.50" width="2.15" height="6.30" fill="#8e0c2e"/>
<rect x="430.53" y="193.80" width="2.15" height="8.10" fill="#243b6e"/>
<rect x="432.53" y="188.00" width="2.15" height="5.80" fill="#243b6e"/>
<rect x="432.53" y="193.80" width="2.15" height="6.20" fill="#8e0c2e"/>
<rect x="434.12" y="190.60" width="2.15" height="3.20" fill="#8e0c2e"/>
<rect x="434.12" y="193.80" width="2.15" height="5.60" fill="#243b6e"/>
<rect x="443.62" y="189.60" width="2.15" height="4.20" fill="#243b6e"/>
<rect x="443.62" y="193.80" width="2.15" height="6.10" fill="#243b6e"/>
<rect x="443.62" y="199.90" width="2.15" height="6.00" fill="#8e0c2e"/>
<rect x="447.73" y="191.00" width="2.15" height="2.80" fill="#8e0c2e"/>
<rect x="447.73" y="193.80" width="2.15" height="2.20" fill="#8e0c2e"/>
<rect x="449.12" y="190.40" width="2.15" height="3.40" fill="#243b6e"/>
<rect x="449.12" y="193.80" width="2.15" height="2.20" fill="#243b6e"/>
<rect x="451.23" y="188.20" width="2.15" height="5.60" fill="#8e0c2e"/>
<rect x="451.23" y="193.80" width="2.15" height="6.60" fill="#8e0c2e"/>
<rect x="453.03" y="187.10" width="2.15" height="6.70" fill="#8e0c2e"/>
<rect x="453.03" y="193.80" width="2.15" height="7.70" fill="#243b6e"/>
<rect x="454.82" y="186.00" width="2.15" height="7.80" fill="#8e0c2e"/>
<rect x="454.82" y="193.80" width="2.15" height="12.10" fill="#8e0c2e"/>
<rect x="459.53" y="187.10" width="2.15" height="6.70" fill="#8e0c2e"/>
<rect x="459.53" y="193.80" width="2.15" height="4.20" fill="#8e0c2e"/>
<rect x="464.53" y="191.50" width="2.15" height="2.30" fill="#243b6e"/>
<rect x="464.53" y="193.80" width="2.15" height="2.70" fill="#243b6e"/>
<rect x="469.93" y="192.80" width="2.15" height="1.00" fill="#243b6e"/>
<rect x="469.93" y="193.80" width="2.15" height="1.00" fill="#243b6e"/>
<rect x="474.82" y="179.30" width="2.15" height="14.50" fill="#8e0c2e"/>
<rect x="474.82" y="193.80" width="2.15" height="7.30" fill="#243b6e"/>
<rect x="474.82" y="201.10" width="2.15" height="7.00" fill="#8e0c2e"/>
<rect x="479.93" y="184.90" width="2.15" height="8.90" fill="#8e0c2e"/>
<rect x="479.93" y="193.80" width="2.15" height="0.70" fill="#243b6e"/>
<rect x="485.32" y="176.00" width="2.15" height="17.80" fill="#8e0c2e"/>
<rect x="485.32" y="193.80" width="2.15" height="2.60" fill="#243b6e"/>
<rect x="485.32" y="196.40" width="2.15" height="4.00" fill="#8e0c2e"/>
<rect x="490.53" y="186.00" width="2.15" height="7.80" fill="#243b6e"/>
<rect x="490.53" y="169.00" width="2.15" height="17.00" fill="#8e0c2e"/>
<rect x="490.53" y="193.80" width="2.15" height="10.70" fill="#8e0c2e"/>
<rect x="493.23" y="184.90" width="2.15" height="8.90" fill="#243b6e"/>
<rect x="493.23" y="152.30" width="2.15" height="32.60" fill="#8e0c2e"/>
<rect x="493.23" y="193.80" width="2.15" height="5.50" fill="#243b6e"/>
<rect x="498.23" y="190.40" width="2.15" height="3.40" fill="#243b6e"/>
<rect x="498.23" y="193.80" width="2.15" height="2.20" fill="#243b6e"/>
<circle cx="78.2" cy="229.4" r="0.6" fill="#333"/>
<circle cx="230.4" cy="232.6" r="0.6" fill="#333"/>
<circle cx="251.3" cy="229.8" r="0.6" fill="#333"/>
<circle cx="310.6" cy="221.8" r="0.6" fill="#333"/>
<circle cx="338.9" cy="213.0" r="0.6" fill="#333"/>
<circle cx="349.6" cy="227.9" r="0.6" fill="#333"/>
<circle cx="372.4" cy="226.2" r="0.6" fill="#333"/>
<circle cx="444.8" cy="208.0" r="0.6" fill="#333"/>
<path d="M29.60,160.90 V158.30 H79.50 V160.90" stroke="#111" stroke-width="1.25" fill="none"/>
<text x="64.80" y="156.60" font-size="4.0" fill="#222" textLength="11" lengthAdjust="spacingAndGlyphs" class="lt">13.4%</text>
<path d="M29.60,170.50 V167.90 H53.80 V170.50" stroke="#111" stroke-width="1.25" fill="none"/>
<text x="38.60" y="166.40" font-size="4.0" fill="#222" textLength="9.4" lengthAdjust="spacingAndGlyphs" class="lt">7.4%</text>
<path d="M29.60,223.00 V225.60 H53.60 V223.00" stroke="#111" stroke-width="1.25" fill="none"/>
<text x="37.10" y="230.80" font-size="4.0" fill="#222" textLength="9.2" lengthAdjust="spacingAndGlyphs" class="lt">8.6%</text>
<path d="M29.60,230.60 V233.20 H79.50 V230.60" stroke="#111" stroke-width="1.25" fill="none"/>
<text x="63.10" y="238.90" font-size="4.0" fill="#222" textLength="11.5" lengthAdjust="spacingAndGlyphs" class="lt">16.1%</text>
<path d="M449.20,143.40 V140.80 H501.50 V143.40" stroke="#111" stroke-width="1.25" fill="none"/>
<text x="443.80" y="147.40" font-size="4.0" fill="#222" textLength="11.6" lengthAdjust="spacingAndGlyphs" class="lt">17.8%</text>
<path d="M474.60,146.10 V143.50 H501.00 V146.10" stroke="#111" stroke-width="1.25" fill="none"/>
<text x="465.40" y="151.00" font-size="4.0" fill="#222" textLength="11.6" lengthAdjust="spacingAndGlyphs" class="lt">14.3%</text>
<path d="M476.20,209.80 V212.40 H501.50 V209.80" stroke="#111" stroke-width="1.25" fill="none"/>
<text x="484.60" y="216.90" font-size="4.0" fill="#222" textLength="8.4" lengthAdjust="spacingAndGlyphs" class="lt">4.6%</text>
<path d="M450.00,215.20 V217.80 H501.50 V215.20" stroke="#111" stroke-width="1.25" fill="none"/>
<text x="455.40" y="215.60" font-size="4.0" fill="#222" textLength="9.2" lengthAdjust="spacingAndGlyphs" class="lt">7.9%</text>
<text x="490.80" y="152.75" font-size="5" fill="#222" textLength="6.9" lengthAdjust="spacingAndGlyphs">***</text>
<text x="481.50" y="185.25" font-size="5" text-anchor="middle" fill="#222">*</text>
<text x="486.20" y="175.25" font-size="5" text-anchor="middle" fill="#222">*</text>
<text x="491.50" y="169.05" font-size="5" text-anchor="middle" fill="#222">*</text>
<text class="lt" x="29.80" y="214.77" font-size="4.2">V<tspan font-size="2.94" dy="1.3">H</tspan><tspan dy="-1.3">1-42</tspan></text>
<line x1="36.00" y1="210.90" x2="37.78" y2="208.62" stroke="#111" stroke-width="1.0"/>
<path d="M39.60,206.30 L38.98,209.94 L36.22,207.78 Z" fill="#111"/>
<text class="lt" x="54.30" y="212.77" font-size="4.2">V<tspan font-size="2.94" dy="1.3">H</tspan><tspan dy="-1.3">1-80</tspan></text>
<line x1="52.90" y1="209.90" x2="51.05" y2="207.38" stroke="#111" stroke-width="1.0"/>
<path d="M49.30,205.00 L52.63,206.58 L49.81,208.66 Z" fill="#111"/>
<text class="lt" x="55.30" y="220.97" font-size="4.2">V<tspan font-size="2.94" dy="1.3">H</tspan><tspan dy="-1.3">1-81</tspan></text>
<line x1="54.00" y1="218.20" x2="50.75" y2="218.20" stroke="#111" stroke-width="1.0"/>
<path d="M47.80,218.20 L51.05,216.45 L51.05,219.95 Z" fill="#111"/>
<text class="lt" x="88.10" y="230.27" font-size="4.2">V<tspan font-size="2.94" dy="1.3">H</tspan><tspan dy="-1.3">1-72</tspan></text>
<line x1="86.90" y1="228.80" x2="84.79" y2="228.07" stroke="#111" stroke-width="1.0"/>
<path d="M82.00,227.10 L85.64,226.51 L84.50,229.82 Z" fill="#111"/>
<text class="lt" x="115.30" y="218.07" font-size="4.2">V<tspan font-size="2.94" dy="1.3">H</tspan><tspan dy="-1.3">1-64</tspan></text>
<line x1="113.50" y1="214.40" x2="110.66" y2="211.51" stroke="#111" stroke-width="1.0"/>
<path d="M108.60,209.40 L112.12,210.50 L109.62,212.95 Z" fill="#111"/>
<text class="lt" x="141.20" y="224.17" font-size="4.2">V<tspan font-size="2.94" dy="1.3">H</tspan><tspan dy="-1.3">8-8</tspan></text>
<line x1="140.70" y1="220.00" x2="138.20" y2="216.74" stroke="#111" stroke-width="1.0"/>
<path d="M136.40,214.40 L139.77,215.91 L136.99,218.04 Z" fill="#111"/>
<text class="lt" x="153.30" y="217.17" font-size="4.2">V<tspan font-size="2.94" dy="1.3">H</tspan><tspan dy="-1.3">1-55</tspan></text>
<line x1="152.50" y1="213.10" x2="149.82" y2="210.75" stroke="#111" stroke-width="1.0"/>
<path d="M147.60,208.80 L151.20,209.63 L148.89,212.26 Z" fill="#111"/>
<text class="lt" x="201.50" y="219.27" font-size="4.2">V<tspan font-size="2.94" dy="1.3">H</tspan><tspan dy="-1.3">1-39</tspan></text>
<line x1="203.50" y1="214.40" x2="200.50" y2="210.85" stroke="#111" stroke-width="1.0"/>
<path d="M198.60,208.60 L202.03,209.95 L199.36,212.21 Z" fill="#111"/>
<text class="lt" x="205.90" y="235.17" font-size="4.2">V<tspan font-size="2.94" dy="1.3">H</tspan><tspan dy="-1.3">1-24</tspan></text>
<line x1="220.80" y1="233.70" x2="224.87" y2="231.63" stroke="#111" stroke-width="1.0"/>
<path d="M227.50,230.30 L225.39,233.33 L223.81,230.21 Z" fill="#111"/>
<text class="lt" x="266.20" y="222.67" font-size="4.2">V<tspan font-size="2.94" dy="1.3">H</tspan><tspan dy="-1.3">1-18</tspan></text>
<line x1="264.70" y1="219.20" x2="261.29" y2="216.73" stroke="#111" stroke-width="1.0"/>
<path d="M258.90,215.00 L262.56,215.49 L260.51,218.32 Z" fill="#111"/>
<text class="lt" x="261.30" y="232.27" font-size="4.2">V<tspan font-size="2.94" dy="1.3">H</tspan><tspan dy="-1.3">1-19</tspan></text>
<line x1="260.40" y1="229.30" x2="256.24" y2="227.22" stroke="#111" stroke-width="1.0"/>
<path d="M253.60,225.90 L257.29,225.79 L255.72,228.92 Z" fill="#111"/>
<text class="lt" x="287.70" y="223.97" font-size="4.2">V<tspan font-size="2.94" dy="1.3">H</tspan><tspan dy="-1.3">10-1</tspan></text>
<line x1="301.80" y1="222.50" x2="305.75" y2="220.59" stroke="#111" stroke-width="1.0"/>
<path d="M308.40,219.30 L306.24,222.29 L304.71,219.14 Z" fill="#111"/>
<text class="lt" x="315.30" y="220.57" font-size="4.2">V<tspan font-size="2.94" dy="1.3">H</tspan><tspan dy="-1.3">8-3</tspan></text>
<line x1="322.70" y1="216.40" x2="325.10" y2="213.56" stroke="#111" stroke-width="1.0"/>
<path d="M327.00,211.30 L326.24,214.91 L323.57,212.66 Z" fill="#111"/>
<text class="lt" x="330.80" y="223.27" font-size="4.2">V<tspan font-size="2.94" dy="1.3">H</tspan><tspan dy="-1.3">2-6</tspan></text>
<line x1="334.10" y1="217.10" x2="335.31" y2="214.04" stroke="#111" stroke-width="1.0"/>
<path d="M336.40,211.30 L336.83,214.97 L333.58,213.68 Z" fill="#111"/>
<text class="lt" x="330.10" y="232.67" font-size="4.2">V<tspan font-size="2.94" dy="1.3">H</tspan><tspan dy="-1.3">2-4</tspan></text>
<line x1="340.90" y1="229.90" x2="344.11" y2="227.88" stroke="#111" stroke-width="1.0"/>
<path d="M346.60,226.30 L344.79,229.52 L342.92,226.56 Z" fill="#111"/>
<text class="lt" x="385.40" y="227.47" font-size="4.2">V<tspan font-size="2.94" dy="1.3">H</tspan><tspan dy="-1.3">8-2</tspan></text>
<line x1="383.80" y1="225.70" x2="379.11" y2="224.90" stroke="#111" stroke-width="1.0"/>
<path d="M376.20,224.40 L379.70,223.22 L379.11,226.67 Z" fill="#111"/>
<text class="lt" x="420.60" y="213.67" font-size="4.2">V<tspan font-size="2.94" dy="1.3">H</tspan><tspan dy="-1.3">2-6-1</tspan></text>
<line x1="436.10" y1="210.50" x2="439.96" y2="207.21" stroke="#111" stroke-width="1.0"/>
<path d="M442.20,205.30 L440.86,208.74 L438.59,206.08 Z" fill="#111"/>
<text class="lt" x="471.50" y="156.47" font-size="4.2">V<tspan font-size="2.94" dy="1.3">H</tspan><tspan dy="-1.3">5-2</tspan></text>
<line x1="482.50" y1="155.00" x2="489.05" y2="155.00" stroke="#111" stroke-width="1.0"/>
<path d="M492.00,155.00 L488.75,156.75 L488.75,153.25 Z" fill="#111"/>
<text class="lt" x="471.50" y="164.97" font-size="4.2">V<tspan font-size="2.94" dy="1.3">H</tspan><tspan dy="-1.3">2-2</tspan></text>
<line x1="482.00" y1="164.00" x2="486.52" y2="166.90" stroke="#111" stroke-width="1.0"/>
<path d="M489.00,168.50 L485.32,168.21 L487.21,165.27 Z" fill="#111"/>
<text class="lt" x="472.30" y="172.67" font-size="4.2">V<tspan font-size="2.94" dy="1.3">H</tspan><tspan dy="-1.3">5-4</tspan></text>
<line x1="478.00" y1="172.50" x2="481.83" y2="176.01" stroke="#111" stroke-width="1.0"/>
<path d="M484.00,178.00 L480.42,177.09 L482.79,174.51 Z" fill="#111"/>
<text class="lt" x="455.40" y="168.77" font-size="4.2">V<tspan font-size="2.94" dy="1.3">H</tspan><tspan dy="-1.3">2-5</tspan></text>
<line x1="466.00" y1="168.00" x2="473.97" y2="176.36" stroke="#111" stroke-width="1.0"/>
<path d="M476.00,178.50 L472.49,177.35 L475.03,174.94 Z" fill="#111"/>
<text class="lt" x="453.80" y="176.47" font-size="4.2">V<tspan font-size="2.94" dy="1.3">H</tspan><tspan dy="-1.3">5-4</tspan></text>
<line x1="466.00" y1="176.80" x2="471.26" y2="178.90" stroke="#111" stroke-width="1.0"/>
<path d="M474.00,180.00 L470.33,180.42 L471.63,177.17 Z" fill="#111"/>
<line x1="119.80" y1="143.70" x2="128.50" y2="143.70" stroke="#243b6e" stroke-width="2.0"/>
<text x="131.90" y="145.59" font-size="5.4" font-style="italic" fill="#222" textLength="25" lengthAdjust="spacingAndGlyphs" class="lt">productive</text>
<line x1="350.60" y1="143.70" x2="359.20" y2="143.70" stroke="#8e0c2e" stroke-width="2.0"/>
<text x="362.70" y="145.59" font-size="5.4" font-style="italic" fill="#222" textLength="36" lengthAdjust="spacingAndGlyphs" class="lt">non-productive</text>
<text class="ns" x="221.5" y="151.30" font-size="7" textLength="87.7" lengthAdjust="spacingAndGlyphs">WT pro-B cells <tspan font-style="italic">IghV</tspan> genes</text>
<text class="ns" x="214.8" y="251.80" font-size="7" textLength="99.6" lengthAdjust="spacingAndGlyphs">R972Q pro-B cells <tspan font-style="italic">IghV</tspan> genes</text>
<text x="28.80" y="251.55" font-size="7" fill="#222" textLength="15" lengthAdjust="spacingAndGlyphs" class="ns">distal</text>
<text x="476.60" y="251.55" font-size="7" fill="#222" textLength="24.6" lengthAdjust="spacingAndGlyphs" class="ns">proximal</text>
<line x1="28.30" y1="293.30" x2="28.30" y2="380.75" stroke="#555" stroke-width="0.9"/>
<line x1="24.50" y1="294.30" x2="28.30" y2="294.30" stroke="#555" stroke-width="0.8"/>
<text x="20.40" y="295.91" font-size="4.6" text-anchor="middle" fill="#555" class="lt">6</text>
<line x1="24.50" y1="300.95" x2="28.30" y2="300.95" stroke="#555" stroke-width="0.8"/>
<text x="20.40" y="302.56" font-size="4.6" text-anchor="middle" fill="#555" class="lt">5</text>
<line x1="24.50" y1="307.60" x2="28.30" y2="307.60" stroke="#555" stroke-width="0.8"/>
<text x="20.40" y="309.21" font-size="4.6" text-anchor="middle" fill="#555" class="lt">4</text>
<line x1="24.50" y1="314.25" x2="28.30" y2="314.25" stroke="#555" stroke-width="0.8"/>
<text x="20.40" y="315.86" font-size="4.6" text-anchor="middle" fill="#555" class="lt">3</text>
<line x1="24.50" y1="320.90" x2="28.30" y2="320.90" stroke="#555" stroke-width="0.8"/>
<text x="20.40" y="322.51" font-size="4.6" text-anchor="middle" fill="#555" class="lt">2</text>
<line x1="24.50" y1="327.55" x2="28.30" y2="327.55" stroke="#555" stroke-width="0.8"/>
<text x="20.40" y="329.16" font-size="4.6" text-anchor="middle" fill="#555" class="lt">1</text>
<line x1="24.50" y1="334.20" x2="28.30" y2="334.20" stroke="#555" stroke-width="0.8"/>
<text x="20.40" y="335.81" font-size="4.6" text-anchor="middle" fill="#555" class="lt">0</text>
<line x1="24.50" y1="340.85" x2="28.30" y2="340.85" stroke="#555" stroke-width="0.8"/>
<text x="20.40" y="342.46" font-size="4.6" text-anchor="middle" fill="#555" class="lt">1</text>
<line x1="24.50" y1="347.50" x2="28.30" y2="347.50" stroke="#555" stroke-width="0.8"/>
<text x="20.40" y="349.11" font-size="4.6" text-anchor="middle" fill="#555" class="lt">2</text>
<line x1="24.50" y1="354.15" x2="28.30" y2="354.15" stroke="#555" stroke-width="0.8"/>
<text x="20.40" y="355.76" font-size="4.6" text-anchor="middle" fill="#555" class="lt">3</text>
<line x1="24.50" y1="360.80" x2="28.30" y2="360.80" stroke="#555" stroke-width="0.8"/>
<text x="20.40" y="362.41" font-size="4.6" text-anchor="middle" fill="#555" class="lt">4</text>
<line x1="24.50" y1="367.45" x2="28.30" y2="367.45" stroke="#555" stroke-width="0.8"/>
<text x="20.40" y="369.06" font-size="4.6" text-anchor="middle" fill="#555" class="lt">5</text>
<line x1="24.50" y1="374.10" x2="28.30" y2="374.10" stroke="#555" stroke-width="0.8"/>
<text x="20.40" y="375.71" font-size="4.6" text-anchor="middle" fill="#555" class="lt">6</text>
<line x1="24.50" y1="380.75" x2="28.30" y2="380.75" stroke="#555" stroke-width="0.8"/>
<text x="20.40" y="382.36" font-size="4.6" text-anchor="middle" fill="#555" class="lt">7</text>
<line x1="28.30" y1="334.20" x2="505.00" y2="334.20" stroke="#2b3a6b" stroke-width="0.9"/>
<text x="13.50" y="339.30" font-size="5.7" text-anchor="middle" fill="#222" textLength="92" lengthAdjust="spacingAndGlyphs" transform="rotate(-90 13.50 337.30)">Utilization (% of unique sequences)</text>
<rect x="33.02" y="332.70" width="2.15" height="1.50" fill="#243b6e"/>
<rect x="33.02" y="334.20" width="2.15" height="6.20" fill="#243b6e"/>
<rect x="35.42" y="332.00" width="2.15" height="2.20" fill="#8e0c2e"/>
<rect x="35.42" y="334.20" width="2.15" height="1.80" fill="#8e0c2e"/>
<rect x="40.72" y="325.20" width="2.15" height="9.00" fill="#243b6e"/>
<rect x="40.72" y="322.20" width="2.15" height="3.00" fill="#8e0c2e"/>
<rect x="40.72" y="334.20" width="2.15" height="13.80" fill="#243b6e"/>
<rect x="40.72" y="348.00" width="2.15" height="4.00" fill="#8e0c2e"/>
<rect x="43.52" y="322.50" width="2.15" height="11.70" fill="#243b6e"/>
<rect x="43.52" y="318.50" width="2.15" height="4.00" fill="#8e0c2e"/>
<rect x="43.52" y="334.20" width="2.15" height="21.80" fill="#243b6e"/>
<rect x="46.22" y="328.70" width="2.15" height="5.50" fill="#243b6e"/>
<rect x="46.22" y="334.20" width="2.15" height="17.90" fill="#243b6e"/>
<rect x="46.22" y="352.10" width="2.15" height="12.00" fill="#8e0c2e"/>
<rect x="51.62" y="327.60" width="2.15" height="6.60" fill="#243b6e"/>
<rect x="51.62" y="334.20" width="2.15" height="6.60" fill="#243b6e"/>
<rect x="53.92" y="331.00" width="2.15" height="3.20" fill="#8e0c2e"/>
<rect x="53.92" y="334.20" width="2.15" height="1.80" fill="#8e0c2e"/>
<rect x="59.32" y="326.20" width="2.15" height="8.00" fill="#243b6e"/>
<rect x="59.32" y="334.20" width="2.15" height="1.50" fill="#243b6e"/>
<rect x="64.42" y="324.20" width="2.15" height="10.00" fill="#243b6e"/>
<rect x="64.42" y="334.20" width="2.15" height="6.20" fill="#243b6e"/>
<rect x="69.52" y="327.60" width="2.15" height="6.60" fill="#243b6e"/>
<rect x="69.52" y="334.20" width="2.15" height="6.20" fill="#243b6e"/>
<rect x="77.62" y="320.50" width="2.15" height="13.70" fill="#8e0c2e"/>
<rect x="77.62" y="334.20" width="2.15" height="7.70" fill="#243b6e"/>
<rect x="77.62" y="341.90" width="2.15" height="5.00" fill="#8e0c2e"/>
<rect x="82.62" y="330.00" width="2.15" height="4.20" fill="#243b6e"/>
<rect x="82.62" y="334.20" width="2.15" height="11.70" fill="#8e0c2e"/>
<rect x="85.33" y="326.40" width="2.15" height="7.80" fill="#8e0c2e"/>
<rect x="85.33" y="334.20" width="2.15" height="6.60" fill="#8e0c2e"/>
<rect x="87.52" y="328.70" width="2.15" height="5.50" fill="#243b6e"/>
<rect x="87.52" y="334.20" width="2.15" height="5.60" fill="#243b6e"/>
<rect x="93.02" y="328.20" width="2.15" height="6.00" fill="#8e0c2e"/>
<rect x="93.02" y="334.20" width="2.15" height="6.20" fill="#243b6e"/>
<rect x="95.72" y="331.00" width="2.15" height="3.20" fill="#243b6e"/>
<rect x="95.72" y="334.20" width="2.15" height="2.80" fill="#243b6e"/>
<rect x="98.52" y="333.10" width="2.15" height="1.10" fill="#8e0c2e"/>
<rect x="98.52" y="334.20" width="2.15" height="6.60" fill="#8e0c2e"/>
<rect x="106.22" y="317.50" width="2.15" height="16.70" fill="#243b6e"/>
<rect x="106.22" y="334.20" width="2.15" height="5.80" fill="#243b6e"/>
<rect x="106.22" y="340.00" width="2.15" height="12.60" fill="#8e0c2e"/>
<rect x="108.62" y="329.00" width="2.15" height="5.20" fill="#243b6e"/>
<rect x="108.62" y="334.20" width="2.15" height="2.80" fill="#243b6e"/>
<rect x="113.92" y="330.00" width="2.15" height="4.20" fill="#243b6e"/>
<rect x="113.92" y="334.20" width="2.15" height="0.80" fill="#243b6e"/>
<rect x="124.42" y="333.00" width="2.15" height="1.20" fill="#243b6e"/>
<rect x="124.42" y="334.20" width="2.15" height="1.30" fill="#243b6e"/>
<rect x="130.12" y="330.00" width="2.15" height="4.20" fill="#8e0c2e"/>
<rect x="130.12" y="334.20" width="2.15" height="1.80" fill="#8e0c2e"/>
<rect x="131.73" y="331.00" width="2.15" height="3.20" fill="#243b6e"/>
<rect x="131.73" y="334.20" width="2.15" height="1.30" fill="#243b6e"/>
<rect x="134.62" y="325.00" width="2.15" height="9.20" fill="#243b6e"/>
<rect x="134.62" y="334.20" width="2.15" height="6.70" fill="#243b6e"/>
<rect x="134.62" y="340.90" width="2.15" height="6.00" fill="#8e0c2e"/>
<rect x="139.73" y="331.70" width="2.15" height="2.50" fill="#8e0c2e"/>
<rect x="139.73" y="334.20" width="2.15" height="6.80" fill="#8e0c2e"/>
<rect x="145.03" y="321.90" width="2.15" height="12.30" fill="#243b6e"/>
<rect x="145.03" y="314.90" width="2.15" height="7.00" fill="#8e0c2e"/>
<rect x="145.03" y="334.20" width="2.15" height="6.20" fill="#243b6e"/>
<rect x="147.43" y="330.70" width="2.15" height="3.50" fill="#243b6e"/>
<rect x="147.43" y="334.20" width="2.15" height="6.20" fill="#243b6e"/>
<rect x="152.73" y="323.20" width="2.15" height="11.00" fill="#243b6e"/>
<rect x="152.73" y="334.20" width="2.15" height="0.80" fill="#243b6e"/>
<rect x="155.12" y="331.00" width="2.15" height="3.20" fill="#243b6e"/>
<rect x="155.12" y="334.20" width="2.15" height="0.80" fill="#243b6e"/>
<rect x="160.23" y="330.30" width="2.15" height="3.90" fill="#8e0c2e"/>
<rect x="160.23" y="334.20" width="2.15" height="6.20" fill="#243b6e"/>
<rect x="165.33" y="331.00" width="2.15" height="3.20" fill="#8e0c2e"/>
<rect x="165.33" y="334.20" width="2.15" height="0.80" fill="#8e0c2e"/>
<rect x="171.33" y="333.00" width="2.15" height="1.20" fill="#243b6e"/>
<rect x="171.33" y="334.20" width="2.15" height="1.30" fill="#243b6e"/>
<rect x="176.03" y="328.20" width="2.15" height="6.00" fill="#8e0c2e"/>
<rect x="176.03" y="334.20" width="2.15" height="0.80" fill="#8e0c2e"/>
<rect x="189.23" y="330.30" width="2.15" height="3.90" fill="#243b6e"/>
<rect x="189.23" y="334.20" width="2.15" height="0.80" fill="#243b6e"/>
<rect x="197.03" y="329.80" width="2.15" height="4.40" fill="#243b6e"/>
<rect x="197.03" y="326.80" width="2.15" height="3.00" fill="#8e0c2e"/>
<rect x="197.03" y="334.20" width="2.15" height="12.30" fill="#243b6e"/>
<rect x="200.03" y="332.50" width="2.15" height="1.70" fill="#243b6e"/>
<rect x="200.03" y="334.20" width="2.15" height="1.30" fill="#243b6e"/>
<rect x="205.03" y="331.70" width="2.15" height="2.50" fill="#243b6e"/>
<rect x="205.03" y="334.20" width="2.15" height="6.70" fill="#243b6e"/>
<rect x="205.03" y="340.90" width="2.15" height="6.00" fill="#8e0c2e"/>
<rect x="212.62" y="334.20" width="2.15" height="6.60" fill="#8e0c2e"/>
<rect x="217.83" y="333.00" width="2.15" height="1.20" fill="#243b6e"/>
<rect x="217.83" y="334.20" width="2.15" height="1.30" fill="#243b6e"/>
<rect x="230.83" y="315.40" width="2.15" height="18.80" fill="#243b6e"/>
<rect x="230.83" y="311.40" width="2.15" height="4.00" fill="#8e0c2e"/>
<rect x="230.83" y="334.20" width="2.15" height="6.60" fill="#8e0c2e"/>
<rect x="238.93" y="331.00" width="2.15" height="3.20" fill="#8e0c2e"/>
<rect x="241.53" y="328.20" width="2.15" height="6.00" fill="#8e0c2e"/>
<rect x="241.53" y="334.20" width="2.15" height="18.40" fill="#243b6e"/>
<rect x="251.53" y="325.00" width="2.15" height="9.20" fill="#243b6e"/>
<rect x="251.53" y="321.00" width="2.15" height="4.00" fill="#8e0c2e"/>
<rect x="251.53" y="334.20" width="2.15" height="10.60" fill="#243b6e"/>
<rect x="251.53" y="344.80" width="2.15" height="14.00" fill="#8e0c2e"/>
<rect x="256.62" y="326.50" width="2.15" height="7.70" fill="#243b6e"/>
<rect x="256.62" y="318.50" width="2.15" height="8.00" fill="#8e0c2e"/>
<rect x="256.62" y="334.20" width="2.15" height="26.10" fill="#243b6e"/>
<rect x="256.62" y="360.30" width="2.15" height="16.00" fill="#8e0c2e"/>
<rect x="266.73" y="329.70" width="2.15" height="4.50" fill="#243b6e"/>
<rect x="266.73" y="334.20" width="2.15" height="6.20" fill="#243b6e"/>
<rect x="274.93" y="330.00" width="2.15" height="4.20" fill="#243b6e"/>
<rect x="274.93" y="334.20" width="2.15" height="2.80" fill="#243b6e"/>
<rect x="277.73" y="323.60" width="2.15" height="10.60" fill="#8e0c2e"/>
<rect x="277.73" y="334.20" width="2.15" height="12.70" fill="#8e0c2e"/>
<rect x="285.43" y="328.70" width="2.15" height="5.50" fill="#243b6e"/>
<rect x="285.43" y="334.20" width="2.15" height="2.80" fill="#243b6e"/>
<rect x="293.12" y="327.60" width="2.15" height="6.60" fill="#243b6e"/>
<rect x="293.12" y="334.20" width="2.15" height="2.80" fill="#243b6e"/>
<rect x="298.23" y="328.20" width="2.15" height="6.00" fill="#8e0c2e"/>
<rect x="298.23" y="334.20" width="2.15" height="24.50" fill="#8e0c2e"/>
<rect x="300.62" y="326.20" width="2.15" height="8.00" fill="#8e0c2e"/>
<rect x="300.62" y="334.20" width="2.15" height="17.80" fill="#8e0c2e"/>
<rect x="306.53" y="331.50" width="2.15" height="2.70" fill="#243b6e"/>
<rect x="306.53" y="334.20" width="2.15" height="0.80" fill="#243b6e"/>
<rect x="311.03" y="323.60" width="2.15" height="10.60" fill="#8e0c2e"/>
<rect x="311.03" y="334.20" width="2.15" height="7.70" fill="#243b6e"/>
<rect x="311.03" y="341.90" width="2.15" height="5.00" fill="#8e0c2e"/>
<rect x="313.03" y="324.60" width="2.15" height="9.60" fill="#8e0c2e"/>
<rect x="313.03" y="334.20" width="2.15" height="7.60" fill="#243b6e"/>
<rect x="314.62" y="326.60" width="2.15" height="7.60" fill="#8e0c2e"/>
<rect x="314.62" y="334.20" width="2.15" height="8.60" fill="#243b6e"/>
<rect x="316.73" y="327.60" width="2.15" height="6.60" fill="#8e0c2e"/>
<rect x="316.73" y="334.20" width="2.15" height="11.70" fill="#243b6e"/>
<rect x="321.73" y="328.70" width="2.15" height="5.50" fill="#243b6e"/>
<rect x="321.73" y="334.20" width="2.15" height="11.70" fill="#243b6e"/>
<rect x="329.23" y="329.20" width="2.15" height="5.00" fill="#243b6e"/>
<rect x="329.23" y="326.20" width="2.15" height="3.00" fill="#8e0c2e"/>
<rect x="329.23" y="334.20" width="2.15" height="17.80" fill="#243b6e"/>
<rect x="331.93" y="328.70" width="2.15" height="5.50" fill="#8e0c2e"/>
<rect x="331.93" y="334.20" width="2.15" height="6.60" fill="#243b6e"/>
<rect x="334.32" y="327.60" width="2.15" height="6.60" fill="#8e0c2e"/>
<rect x="334.32" y="334.20" width="2.15" height="11.70" fill="#8e0c2e"/>
<rect x="340.03" y="329.00" width="2.15" height="5.20" fill="#243b6e"/>
<rect x="340.03" y="334.20" width="2.15" height="18.40" fill="#8e0c2e"/>
<rect x="347.53" y="328.70" width="2.15" height="5.50" fill="#8e0c2e"/>
<rect x="347.53" y="334.20" width="2.15" height="0.80" fill="#243b6e"/>
<rect x="350.12" y="318.50" width="2.15" height="15.70" fill="#243b6e"/>
<rect x="350.12" y="334.20" width="2.15" height="15.50" fill="#243b6e"/>
<rect x="350.12" y="349.70" width="2.15" height="15.00" fill="#8e0c2e"/>
<rect x="356.62" y="333.00" width="2.15" height="1.20" fill="#243b6e"/>
<rect x="356.62" y="334.20" width="2.15" height="1.30" fill="#243b6e"/>
<rect x="359.62" y="333.00" width="2.15" height="1.20" fill="#243b6e"/>
<rect x="359.62" y="334.20" width="2.15" height="1.30" fill="#243b6e"/>
<rect x="362.93" y="331.00" width="2.15" height="3.20" fill="#8e0c2e"/>
<rect x="362.93" y="334.20" width="2.15" height="0.80" fill="#8e0c2e"/>
<rect x="366.03" y="329.00" width="2.15" height="5.20" fill="#243b6e"/>
<rect x="366.03" y="334.20" width="2.15" height="6.60" fill="#8e0c2e"/>
<rect x="371.12" y="329.70" width="2.15" height="4.50" fill="#243b6e"/>
<rect x="371.12" y="334.20" width="2.15" height="0.80" fill="#243b6e"/>
<rect x="373.53" y="321.90" width="2.15" height="12.30" fill="#243b6e"/>
<rect x="373.53" y="318.90" width="2.15" height="3.00" fill="#8e0c2e"/>
<rect x="373.53" y="334.20" width="2.15" height="23.60" fill="#243b6e"/>
<rect x="373.53" y="357.80" width="2.15" height="13.00" fill="#8e0c2e"/>
<rect x="378.82" y="331.00" width="2.15" height="3.20" fill="#243b6e"/>
<rect x="378.82" y="334.20" width="2.15" height="0.80" fill="#243b6e"/>
<rect x="383.62" y="332.30" width="2.15" height="1.90" fill="#243b6e"/>
<rect x="383.62" y="334.20" width="2.15" height="6.60" fill="#243b6e"/>
<rect x="391.32" y="328.20" width="2.15" height="6.00" fill="#8e0c2e"/>
<rect x="391.32" y="334.20" width="2.15" height="12.70" fill="#243b6e"/>
<rect x="394.43" y="331.00" width="2.15" height="3.20" fill="#243b6e"/>
<rect x="394.43" y="334.20" width="2.15" height="0.80" fill="#243b6e"/>
<rect x="396.43" y="329.00" width="2.15" height="5.20" fill="#243b6e"/>
<rect x="396.43" y="334.20" width="2.15" height="6.60" fill="#8e0c2e"/>
<rect x="398.43" y="330.00" width="2.15" height="4.20" fill="#8e0c2e"/>
<rect x="400.53" y="329.00" width="2.15" height="5.20" fill="#8e0c2e"/>
<rect x="402.53" y="331.00" width="2.15" height="3.20" fill="#8e0c2e"/>
<rect x="402.53" y="334.20" width="2.15" height="0.80" fill="#8e0c2e"/>
<rect x="405.53" y="331.50" width="2.15" height="2.70" fill="#243b6e"/>
<rect x="405.53" y="334.20" width="2.15" height="0.80" fill="#243b6e"/>
<rect x="409.62" y="325.60" width="2.15" height="8.60" fill="#8e0c2e"/>
<rect x="409.62" y="334.20" width="2.15" height="0.80" fill="#243b6e"/>
<rect x="412.03" y="331.50" width="2.15" height="2.70" fill="#243b6e"/>
<rect x="412.03" y="334.20" width="2.15" height="0.80" fill="#243b6e"/>
<rect x="417.62" y="328.20" width="2.15" height="6.00" fill="#8e0c2e"/>
<rect x="417.62" y="334.20" width="2.15" height="12.70" fill="#8e0c2e"/>
<rect x="423.03" y="329.00" width="2.15" height="5.20" fill="#8e0c2e"/>
<rect x="423.03" y="334.20" width="2.15" height="0.80" fill="#8e0c2e"/>
<rect x="431.12" y="329.00" width="2.15" height="5.20" fill="#8e0c2e"/>
<rect x="431.12" y="334.20" width="2.15" height="12.70" fill="#243b6e"/>
<rect x="433.23" y="329.70" width="2.15" height="4.50" fill="#8e0c2e"/>
<rect x="433.23" y="334.20" width="2.15" height="14.50" fill="#243b6e"/>
<rect x="433.23" y="348.70" width="2.15" height="10.00" fill="#8e0c2e"/>
<rect x="435.82" y="331.50" width="2.15" height="2.70" fill="#243b6e"/>
<rect x="435.82" y="334.20" width="2.15" height="0.80" fill="#243b6e"/>
<rect x="446.53" y="331.50" width="2.15" height="2.70" fill="#243b6e"/>
<rect x="446.53" y="334.20" width="2.15" height="0.80" fill="#243b6e"/>
<rect x="451.23" y="331.00" width="2.15" height="3.20" fill="#8e0c2e"/>
<rect x="453.32" y="330.00" width="2.15" height="4.20" fill="#8e0c2e"/>
<rect x="455.53" y="328.40" width="2.15" height="5.80" fill="#8e0c2e"/>
<rect x="457.23" y="328.40" width="2.15" height="5.80" fill="#8e0c2e"/>
<rect x="457.23" y="334.20" width="2.15" height="6.60" fill="#8e0c2e"/>
<rect x="462.12" y="329.20" width="2.15" height="5.00" fill="#8e0c2e"/>
<rect x="462.12" y="334.20" width="2.15" height="7.00" fill="#243b6e"/>
<rect x="467.12" y="332.50" width="2.15" height="1.70" fill="#243b6e"/>
<rect x="467.12" y="334.20" width="2.15" height="12.40" fill="#243b6e"/>
<rect x="477.73" y="322.00" width="2.15" height="12.20" fill="#8e0c2e"/>
<rect x="477.73" y="334.20" width="2.15" height="0.80" fill="#243b6e"/>
<rect x="482.82" y="327.00" width="2.15" height="7.20" fill="#8e0c2e"/>
<rect x="482.82" y="334.20" width="2.15" height="0.80" fill="#243b6e"/>
<rect x="488.12" y="318.90" width="2.15" height="15.30" fill="#8e0c2e"/>
<rect x="488.12" y="334.20" width="2.15" height="0.80" fill="#243b6e"/>
<rect x="493.23" y="328.10" width="2.15" height="6.10" fill="#243b6e"/>
<rect x="493.23" y="313.10" width="2.15" height="15.00" fill="#8e0c2e"/>
<rect x="493.23" y="334.20" width="2.15" height="10.60" fill="#243b6e"/>
<rect x="493.23" y="344.80" width="2.15" height="14.00" fill="#8e0c2e"/>
<rect x="496.12" y="328.00" width="2.15" height="6.20" fill="#243b6e"/>
<rect x="496.12" y="298.30" width="2.15" height="29.70" fill="#8e0c2e"/>
<rect x="496.12" y="334.20" width="2.15" height="0.80" fill="#243b6e"/>
<rect x="501.43" y="332.20" width="2.15" height="2.00" fill="#243b6e"/>
<rect x="501.43" y="334.20" width="2.15" height="6.20" fill="#8e0c2e"/>
<path d="M30.40,302.30 V299.70 H81.10 V302.30" stroke="#111" stroke-width="1.25" fill="none"/>
<text x="64.50" y="306.70" font-size="4.0" fill="#222" textLength="11" lengthAdjust="spacingAndGlyphs" class="lt">13.4%</text>
<path d="M30.40,319.50 V316.90 H54.80 V319.50" stroke="#111" stroke-width="1.25" fill="none"/>
<text x="37.00" y="313.40" font-size="4.0" fill="#222" textLength="8.8" lengthAdjust="spacingAndGlyphs" class="lt">7.4%</text>
<path d="M30.40,372.70 V375.30 H54.80 V372.70" stroke="#111" stroke-width="1.25" fill="none"/>
<text x="37.00" y="374.20" font-size="4.0" fill="#222" textLength="9" lengthAdjust="spacingAndGlyphs" class="lt">11.5%</text>
<path d="M30.40,377.10 V379.70 H81.10 V377.10" stroke="#111" stroke-width="1.25" fill="none"/>
<text x="64.50" y="378.40" font-size="4.0" fill="#222" textLength="11.5" lengthAdjust="spacingAndGlyphs" class="lt">15.2%</text>
<path d="M451.50,288.00 V285.40 H504.70 V288.00" stroke="#111" stroke-width="1.25" fill="none"/>
<text x="446.60" y="293.00" font-size="4.0" fill="#222" textLength="11.1" lengthAdjust="spacingAndGlyphs" class="lt">17.8%</text>
<path d="M478.80,292.60 V290.00 H504.70 V292.60" stroke="#111" stroke-width="1.25" fill="none"/>
<text x="473.20" y="297.40" font-size="4.0" fill="#222" textLength="12.2" lengthAdjust="spacingAndGlyphs" class="lt">14.3%</text>
<line x1="494.30" y1="296.50" x2="499.80" y2="296.50" stroke="#111" stroke-width="0.8"/>
<path d="M478.80,359.90 V362.50 H504.70 V359.90" stroke="#111" stroke-width="1.25" fill="none"/>
<text x="475.00" y="359.50" font-size="4.0" fill="#222" textLength="10" lengthAdjust="spacingAndGlyphs" class="lt">4.9%</text>
<path d="M452.90,363.30 V365.90 H504.70 V363.30" stroke="#111" stroke-width="1.25" fill="none"/>
<text x="458.20" y="372.80" font-size="4.0" fill="#222" textLength="9.8" lengthAdjust="spacingAndGlyphs" class="lt">8.0%</text>
<text class="lt" x="28.30" y="358.07" font-size="4.2">V<tspan font-size="2.94" dy="1.3">H</tspan><tspan dy="-1.3">1-42</tspan></text>
<line x1="37.00" y1="354.00" x2="38.69" y2="351.83" stroke="#111" stroke-width="1.0"/>
<path d="M40.50,349.50 L39.89,353.14 L37.12,350.99 Z" fill="#111"/>
<text class="lt" x="31.00" y="368.67" font-size="4.2">V<tspan font-size="2.94" dy="1.3">H</tspan><tspan dy="-1.3">1-81</tspan></text>
<line x1="38.00" y1="364.00" x2="42.27" y2="354.68" stroke="#111" stroke-width="1.0"/>
<path d="M43.50,352.00 L43.74,355.68 L40.56,354.23 Z" fill="#111"/>
<text class="lt" x="55.00" y="367.67" font-size="4.2">V<tspan font-size="2.94" dy="1.3">H</tspan><tspan dy="-1.3">1-80</tspan></text>
<line x1="54.00" y1="363.50" x2="51.47" y2="360.69" stroke="#111" stroke-width="1.0"/>
<path d="M49.50,358.50 L52.97,359.75 L50.37,362.09 Z" fill="#111"/>
<text class="lt" x="118.00" y="360.97" font-size="4.2">V<tspan font-size="2.94" dy="1.3">H</tspan><tspan dy="-1.3">1-64</tspan></text>
<line x1="117.00" y1="357.00" x2="113.55" y2="354.99" stroke="#111" stroke-width="1.0"/>
<path d="M111.00,353.50 L114.69,353.63 L112.93,356.65 Z" fill="#111"/>
<text class="lt" x="218.10" y="360.67" font-size="4.2">V<tspan font-size="2.94" dy="1.3">H</tspan><tspan dy="-1.3">1-22</tspan></text>
<line x1="233.50" y1="358.50" x2="236.55" y2="355.91" stroke="#111" stroke-width="1.0"/>
<path d="M238.80,354.00 L237.46,357.44 L235.19,354.77 Z" fill="#111"/>
<text class="lt" x="235.80" y="372.27" font-size="4.2">V<tspan font-size="2.94" dy="1.3">H</tspan><tspan dy="-1.3">1-19</tspan></text>
<line x1="244.70" y1="365.40" x2="247.06" y2="361.52" stroke="#111" stroke-width="1.0"/>
<path d="M248.60,359.00 L248.40,362.69 L245.41,360.86 Z" fill="#111"/>
<text class="lt" x="264.70" y="372.97" font-size="4.2">V<tspan font-size="2.94" dy="1.3">H</tspan><tspan dy="-1.3">1-18</tspan></text>
<line x1="267.30" y1="368.50" x2="264.19" y2="365.96" stroke="#111" stroke-width="1.0"/>
<path d="M261.90,364.10 L265.52,364.80 L263.31,367.51 Z" fill="#111"/>
<text class="lt" x="284.60" y="374.07" font-size="4.2">V<tspan font-size="2.94" dy="1.3">H</tspan><tspan dy="-1.3">10-3</tspan></text>
<line x1="290.80" y1="369.20" x2="294.82" y2="362.89" stroke="#111" stroke-width="1.0"/>
<path d="M296.40,360.40 L296.13,364.08 L293.18,362.20 Z" fill="#111"/>
<text class="lt" x="300.00" y="363.77" font-size="4.2">V<tspan font-size="2.94" dy="1.3">H</tspan><tspan dy="-1.3">10-1</tspan></text>
<line x1="306.20" y1="358.50" x2="310.15" y2="352.11" stroke="#111" stroke-width="1.0"/>
<path d="M311.70,349.60 L311.48,353.28 L308.50,351.44 Z" fill="#111"/>
<text class="lt" x="318.00" y="364.57" font-size="4.2">V<tspan font-size="2.94" dy="1.3">H</tspan><tspan dy="-1.3">8-3</tspan></text>
<line x1="325.00" y1="358.50" x2="328.32" y2="355.48" stroke="#111" stroke-width="1.0"/>
<path d="M330.50,353.50 L329.27,356.98 L326.92,354.39 Z" fill="#111"/>
<text class="lt" x="333.00" y="364.97" font-size="4.2">V<tspan font-size="2.94" dy="1.3">H</tspan><tspan dy="-1.3">3-8</tspan></text>
<line x1="338.00" y1="357.50" x2="339.07" y2="355.58" stroke="#111" stroke-width="1.0"/>
<path d="M340.50,353.00 L340.45,356.69 L337.39,354.99 Z" fill="#111"/>
<text class="lt" x="337.00" y="378.77" font-size="4.2">V<tspan font-size="2.94" dy="1.3">H</tspan><tspan dy="-1.3">2-4</tspan></text>
<line x1="346.00" y1="371.50" x2="347.92" y2="368.49" stroke="#111" stroke-width="1.0"/>
<path d="M349.50,366.00 L349.23,369.68 L346.28,367.80 Z" fill="#111"/>
<text class="lt" x="388.20" y="372.17" font-size="4.2">V<tspan font-size="2.94" dy="1.3">H</tspan><tspan dy="-1.3">8-2</tspan></text>
<line x1="386.90" y1="369.20" x2="379.15" y2="368.77" stroke="#111" stroke-width="1.0"/>
<path d="M376.20,368.60 L379.54,367.03 L379.35,370.53 Z" fill="#111"/>
<text class="lt" x="382.30" y="358.77" font-size="4.2">V<tspan font-size="2.94" dy="1.3">H</tspan><tspan dy="-1.3">7-1</tspan></text>
<line x1="388.50" y1="353.50" x2="389.90" y2="350.04" stroke="#111" stroke-width="1.0"/>
<path d="M391.00,347.30 L391.41,350.97 L388.16,349.66 Z" fill="#111"/>
<text class="lt" x="406.90" y="360.27" font-size="4.2">V<tspan font-size="2.94" dy="1.3">H</tspan><tspan dy="-1.3">7-1</tspan></text>
<line x1="412.30" y1="354.20" x2="414.72" y2="350.72" stroke="#111" stroke-width="1.0"/>
<path d="M416.40,348.30 L415.98,351.97 L413.11,349.97 Z" fill="#111"/>
<text class="lt" x="420.00" y="373.37" font-size="4.2">V<tspan font-size="2.94" dy="1.3">H</tspan><tspan dy="-1.3">5-14</tspan></text>
<line x1="426.90" y1="367.30" x2="429.28" y2="363.99" stroke="#111" stroke-width="1.0"/>
<path d="M431.00,361.60 L430.52,365.26 L427.68,363.22 Z" fill="#111"/>
<text class="lt" x="450.00" y="354.07" font-size="4.2">V<tspan font-size="2.94" dy="1.3">H</tspan><tspan dy="-1.3">5-9</tspan></text>
<line x1="463.00" y1="344.50" x2="465.26" y2="341.39" stroke="#111" stroke-width="1.0"/>
<path d="M467.00,339.00 L466.50,342.66 L463.67,340.60 Z" fill="#111"/>
<text class="lt" x="456.60" y="318.17" font-size="4.2">V<tspan font-size="2.94" dy="1.3">H</tspan><tspan dy="-1.3">5-6</tspan></text>
<line x1="469.00" y1="318.00" x2="473.90" y2="320.61" stroke="#111" stroke-width="1.0"/>
<path d="M476.50,322.00 L472.81,322.01 L474.46,318.93 Z" fill="#111"/>
<text class="lt" x="475.00" y="302.57" font-size="4.2">V<tspan font-size="2.94" dy="1.3">H</tspan><tspan dy="-1.3">5-2</tspan></text>
<line x1="485.00" y1="301.00" x2="489.05" y2="301.00" stroke="#111" stroke-width="1.0"/>
<path d="M492.00,301.00 L488.75,302.75 L488.75,299.25 Z" fill="#111"/>
<text class="lt" x="475.00" y="309.67" font-size="4.2">V<tspan font-size="2.94" dy="1.3">H</tspan><tspan dy="-1.3">2-2</tspan></text>
<line x1="486.00" y1="309.00" x2="490.07" y2="311.82" stroke="#111" stroke-width="1.0"/>
<path d="M492.50,313.50 L488.83,313.09 L490.82,310.21 Z" fill="#111"/>
<text class="lt" x="475.00" y="318.17" font-size="4.2">V<tspan font-size="2.94" dy="1.3">H</tspan><tspan dy="-1.3">5-4</tspan></text>
<line x1="485.50" y1="318.00" x2="486.98" y2="320.47" stroke="#111" stroke-width="1.0"/>
<path d="M488.50,323.00 L485.33,321.11 L488.33,319.31 Z" fill="#111"/>
<line x1="123.70" y1="286.70" x2="131.90" y2="286.70" stroke="#243b6e" stroke-width="2.0"/>
<text x="135.20" y="288.59" font-size="5.4" font-style="italic" fill="#222" textLength="25.6" lengthAdjust="spacingAndGlyphs" class="lt">productive</text>
<line x1="353.80" y1="286.70" x2="362.70" y2="286.70" stroke="#8e0c2e" stroke-width="2.0"/>
<text x="366.00" y="288.59" font-size="5.4" font-style="italic" fill="#222" textLength="36.5" lengthAdjust="spacingAndGlyphs" class="lt">non-productive</text>
<text class="ns" x="223.0" y="290.00" font-size="7" textLength="87.7" lengthAdjust="spacingAndGlyphs">WT pro-B cells <tspan font-style="italic">IghV</tspan> genes</text>
<text class="ns" x="220.2" y="393.70" font-size="7" textLength="97.8" lengthAdjust="spacingAndGlyphs">F971L  pro-B cells <tspan font-style="italic">IghV</tspan> genes</text>
<text x="31.90" y="392.45" font-size="7" fill="#222" textLength="16" lengthAdjust="spacingAndGlyphs" class="ns">distal</text>
<text x="480.00" y="392.65" font-size="7" fill="#222" textLength="24.4" lengthAdjust="spacingAndGlyphs" class="ns">proximal</text>
<line x1="27.50" y1="436.50" x2="27.50" y2="522.70" stroke="#555" stroke-width="0.9"/>
<line x1="23.70" y1="437.50" x2="27.50" y2="437.50" stroke="#555" stroke-width="0.8"/>
<text x="20.40" y="439.11" font-size="4.6" text-anchor="middle" fill="#555" class="lt">5</text>
<line x1="23.70" y1="444.60" x2="27.50" y2="444.60" stroke="#555" stroke-width="0.8"/>
<text x="20.40" y="446.21" font-size="4.6" text-anchor="middle" fill="#555" class="lt">4</text>
<line x1="23.70" y1="451.70" x2="27.50" y2="451.70" stroke="#555" stroke-width="0.8"/>
<text x="20.40" y="453.31" font-size="4.6" text-anchor="middle" fill="#555" class="lt">3</text>
<line x1="23.70" y1="458.80" x2="27.50" y2="458.80" stroke="#555" stroke-width="0.8"/>
<text x="20.40" y="460.41" font-size="4.6" text-anchor="middle" fill="#555" class="lt">2</text>
<line x1="23.70" y1="465.90" x2="27.50" y2="465.90" stroke="#555" stroke-width="0.8"/>
<text x="20.40" y="467.51" font-size="4.6" text-anchor="middle" fill="#555" class="lt">1</text>
<line x1="23.70" y1="473.00" x2="27.50" y2="473.00" stroke="#555" stroke-width="0.8"/>
<text x="20.40" y="474.61" font-size="4.6" text-anchor="middle" fill="#555" class="lt">0</text>
<line x1="23.70" y1="480.10" x2="27.50" y2="480.10" stroke="#555" stroke-width="0.8"/>
<text x="20.40" y="481.71" font-size="4.6" text-anchor="middle" fill="#555" class="lt">1</text>
<line x1="23.70" y1="487.20" x2="27.50" y2="487.20" stroke="#555" stroke-width="0.8"/>
<text x="20.40" y="488.81" font-size="4.6" text-anchor="middle" fill="#555" class="lt">2</text>
<line x1="23.70" y1="494.30" x2="27.50" y2="494.30" stroke="#555" stroke-width="0.8"/>
<text x="20.40" y="495.91" font-size="4.6" text-anchor="middle" fill="#555" class="lt">3</text>
<line x1="23.70" y1="501.40" x2="27.50" y2="501.40" stroke="#555" stroke-width="0.8"/>
<text x="20.40" y="503.01" font-size="4.6" text-anchor="middle" fill="#555" class="lt">4</text>
<line x1="23.70" y1="508.50" x2="27.50" y2="508.50" stroke="#555" stroke-width="0.8"/>
<text x="20.40" y="510.11" font-size="4.6" text-anchor="middle" fill="#555" class="lt">5</text>
<line x1="23.70" y1="515.60" x2="27.50" y2="515.60" stroke="#555" stroke-width="0.8"/>
<text x="20.40" y="517.21" font-size="4.6" text-anchor="middle" fill="#555" class="lt">6</text>
<line x1="23.70" y1="522.70" x2="27.50" y2="522.70" stroke="#555" stroke-width="0.8"/>
<line x1="27.50" y1="473.00" x2="505.00" y2="473.00" stroke="#2b3a6b" stroke-width="0.9"/>
<text x="12.60" y="482.39" font-size="5.7" text-anchor="middle" fill="#222" textLength="92" lengthAdjust="spacingAndGlyphs" transform="rotate(-90 12.60 480.40)">Utilization (% of unique sequences)</text>
<rect x="31.63" y="467.00" width="2.15" height="6.00" fill="#243b6e"/>
<rect x="31.63" y="473.00" width="2.15" height="9.40" fill="#243b6e"/>
<rect x="33.62" y="470.50" width="2.15" height="2.50" fill="#243b6e"/>
<rect x="33.62" y="473.00" width="2.15" height="2.50" fill="#243b6e"/>
<rect x="39.12" y="452.40" width="2.15" height="20.60" fill="#243b6e"/>
<rect x="39.12" y="449.40" width="2.15" height="3.00" fill="#8e0c2e"/>
<rect x="39.12" y="473.00" width="2.15" height="21.00" fill="#243b6e"/>
<rect x="41.12" y="455.40" width="2.15" height="17.60" fill="#243b6e"/>
<rect x="41.12" y="452.40" width="2.15" height="3.00" fill="#8e0c2e"/>
<rect x="41.12" y="473.00" width="2.15" height="30.10" fill="#243b6e"/>
<rect x="43.22" y="457.50" width="2.15" height="15.50" fill="#243b6e"/>
<rect x="43.22" y="454.50" width="2.15" height="3.00" fill="#8e0c2e"/>
<rect x="43.22" y="473.00" width="2.15" height="23.60" fill="#243b6e"/>
<rect x="45.22" y="457.50" width="2.15" height="15.50" fill="#243b6e"/>
<rect x="45.22" y="473.00" width="2.15" height="14.90" fill="#243b6e"/>
<rect x="49.92" y="466.20" width="2.15" height="6.80" fill="#243b6e"/>
<rect x="49.92" y="473.00" width="2.15" height="5.80" fill="#243b6e"/>
<rect x="52.32" y="468.00" width="2.15" height="5.00" fill="#243b6e"/>
<rect x="52.32" y="473.00" width="2.15" height="4.00" fill="#243b6e"/>
<rect x="57.32" y="463.60" width="2.15" height="9.40" fill="#243b6e"/>
<rect x="57.32" y="473.00" width="2.15" height="9.40" fill="#243b6e"/>
<rect x="62.42" y="463.60" width="2.15" height="9.40" fill="#243b6e"/>
<rect x="62.42" y="473.00" width="2.15" height="10.20" fill="#243b6e"/>
<rect x="67.52" y="464.20" width="2.15" height="8.80" fill="#243b6e"/>
<rect x="67.52" y="473.00" width="2.15" height="12.30" fill="#243b6e"/>
<rect x="75.62" y="457.50" width="2.15" height="15.50" fill="#243b6e"/>
<rect x="75.62" y="455.50" width="2.15" height="2.00" fill="#8e0c2e"/>
<rect x="75.62" y="473.00" width="2.15" height="26.10" fill="#243b6e"/>
<rect x="83.22" y="464.60" width="2.15" height="8.40" fill="#243b6e"/>
<rect x="83.22" y="473.00" width="2.15" height="5.80" fill="#8e0c2e"/>
<rect x="85.22" y="459.50" width="2.15" height="13.50" fill="#8e0c2e"/>
<rect x="85.22" y="473.00" width="2.15" height="6.80" fill="#8e0c2e"/>
<rect x="86.92" y="462.20" width="2.15" height="10.80" fill="#243b6e"/>
<rect x="86.92" y="473.00" width="2.15" height="6.20" fill="#243b6e"/>
<rect x="91.12" y="468.70" width="2.15" height="4.30" fill="#8e0c2e"/>
<rect x="91.12" y="473.00" width="2.15" height="1.70" fill="#8e0c2e"/>
<rect x="93.33" y="469.00" width="2.15" height="4.00" fill="#8e0c2e"/>
<rect x="93.33" y="473.00" width="2.15" height="3.00" fill="#8e0c2e"/>
<rect x="95.12" y="470.50" width="2.15" height="2.50" fill="#243b6e"/>
<rect x="95.12" y="473.00" width="2.15" height="2.00" fill="#243b6e"/>
<rect x="104.22" y="455.00" width="2.15" height="18.00" fill="#243b6e"/>
<rect x="104.22" y="448.40" width="2.15" height="6.60" fill="#8e0c2e"/>
<rect x="104.22" y="473.00" width="2.15" height="27.10" fill="#243b6e"/>
<rect x="104.22" y="500.10" width="2.15" height="2.00" fill="#8e0c2e"/>
<rect x="107.33" y="467.00" width="2.15" height="6.00" fill="#243b6e"/>
<rect x="107.33" y="473.00" width="2.15" height="3.00" fill="#243b6e"/>
<rect x="111.92" y="466.50" width="2.15" height="6.50" fill="#243b6e"/>
<rect x="111.92" y="473.00" width="2.15" height="5.00" fill="#243b6e"/>
<rect x="122.52" y="467.00" width="2.15" height="6.00" fill="#243b6e"/>
<rect x="122.52" y="473.00" width="2.15" height="4.00" fill="#243b6e"/>
<rect x="127.33" y="467.00" width="2.15" height="6.00" fill="#243b6e"/>
<rect x="127.33" y="473.00" width="2.15" height="2.70" fill="#243b6e"/>
<rect x="129.12" y="470.00" width="2.15" height="3.00" fill="#243b6e"/>
<rect x="129.12" y="473.00" width="2.15" height="5.00" fill="#243b6e"/>
<rect x="132.62" y="460.50" width="2.15" height="12.50" fill="#8e0c2e"/>
<rect x="132.62" y="473.00" width="2.15" height="12.90" fill="#243b6e"/>
<rect x="137.93" y="470.00" width="2.15" height="3.00" fill="#8e0c2e"/>
<rect x="137.93" y="473.00" width="2.15" height="1.00" fill="#8e0c2e"/>
<rect x="143.03" y="455.00" width="2.15" height="18.00" fill="#243b6e"/>
<rect x="143.03" y="452.00" width="2.15" height="3.00" fill="#8e0c2e"/>
<rect x="143.03" y="473.00" width="2.15" height="17.00" fill="#243b6e"/>
<rect x="146.12" y="467.60" width="2.15" height="5.40" fill="#243b6e"/>
<rect x="146.12" y="473.00" width="2.15" height="2.70" fill="#243b6e"/>
<rect x="150.73" y="458.50" width="2.15" height="14.50" fill="#243b6e"/>
<rect x="150.73" y="455.50" width="2.15" height="3.00" fill="#8e0c2e"/>
<rect x="150.73" y="473.00" width="2.15" height="15.50" fill="#243b6e"/>
<rect x="153.83" y="465.00" width="2.15" height="8.00" fill="#243b6e"/>
<rect x="153.83" y="473.00" width="2.15" height="3.80" fill="#243b6e"/>
<rect x="158.62" y="464.20" width="2.15" height="8.80" fill="#243b6e"/>
<rect x="158.62" y="473.00" width="2.15" height="7.80" fill="#243b6e"/>
<rect x="163.93" y="469.00" width="2.15" height="4.00" fill="#8e0c2e"/>
<rect x="163.93" y="473.00" width="2.15" height="2.00" fill="#8e0c2e"/>
<rect x="174.43" y="468.20" width="2.15" height="4.80" fill="#8e0c2e"/>
<rect x="174.43" y="473.00" width="2.15" height="1.70" fill="#8e0c2e"/>
<rect x="187.03" y="467.00" width="2.15" height="6.00" fill="#243b6e"/>
<rect x="187.03" y="473.00" width="2.15" height="4.80" fill="#243b6e"/>
<rect x="194.93" y="462.10" width="2.15" height="10.90" fill="#243b6e"/>
<rect x="194.93" y="460.10" width="2.15" height="2.00" fill="#8e0c2e"/>
<rect x="194.93" y="473.00" width="2.15" height="14.90" fill="#243b6e"/>
<rect x="202.73" y="468.00" width="2.15" height="5.00" fill="#243b6e"/>
<rect x="202.73" y="473.00" width="2.15" height="5.00" fill="#243b6e"/>
<rect x="207.12" y="469.00" width="2.15" height="4.00" fill="#243b6e"/>
<rect x="207.12" y="473.00" width="2.15" height="3.00" fill="#243b6e"/>
<rect x="208.93" y="470.50" width="2.15" height="2.50" fill="#243b6e"/>
<rect x="208.93" y="473.00" width="2.15" height="2.00" fill="#243b6e"/>
<rect x="210.83" y="470.50" width="2.15" height="2.50" fill="#8e0c2e"/>
<rect x="210.83" y="473.00" width="2.15" height="2.00" fill="#8e0c2e"/>
<rect x="215.33" y="470.50" width="2.15" height="2.50" fill="#243b6e"/>
<rect x="215.33" y="473.00" width="2.15" height="2.00" fill="#243b6e"/>
<rect x="225.43" y="471.50" width="2.15" height="1.50" fill="#243b6e"/>
<rect x="225.43" y="473.00" width="2.15" height="1.50" fill="#243b6e"/>
<rect x="229.03" y="436.20" width="2.15" height="36.80" fill="#243b6e"/>
<rect x="229.03" y="434.20" width="2.15" height="2.00" fill="#8e0c2e"/>
<rect x="229.03" y="473.00" width="2.15" height="40.90" fill="#243b6e"/>
<rect x="229.03" y="513.90" width="2.15" height="3.00" fill="#8e0c2e"/>
<rect x="236.53" y="470.50" width="2.15" height="2.50" fill="#243b6e"/>
<rect x="236.53" y="473.00" width="2.15" height="2.00" fill="#243b6e"/>
<rect x="239.23" y="462.50" width="2.15" height="10.50" fill="#243b6e"/>
<rect x="239.23" y="460.50" width="2.15" height="2.00" fill="#8e0c2e"/>
<rect x="239.23" y="473.00" width="2.15" height="17.00" fill="#243b6e"/>
<rect x="239.23" y="490.00" width="2.15" height="2.00" fill="#8e0c2e"/>
<rect x="249.43" y="463.60" width="2.15" height="9.40" fill="#243b6e"/>
<rect x="249.43" y="461.60" width="2.15" height="2.00" fill="#8e0c2e"/>
<rect x="249.43" y="473.00" width="2.15" height="14.00" fill="#243b6e"/>
<rect x="249.43" y="487.00" width="2.15" height="8.00" fill="#8e0c2e"/>
<rect x="254.43" y="455.40" width="2.15" height="17.60" fill="#243b6e"/>
<rect x="254.43" y="453.40" width="2.15" height="2.00" fill="#8e0c2e"/>
<rect x="254.43" y="473.00" width="2.15" height="23.60" fill="#243b6e"/>
<rect x="265.23" y="464.20" width="2.15" height="8.80" fill="#243b6e"/>
<rect x="265.23" y="473.00" width="2.15" height="5.80" fill="#243b6e"/>
<rect x="272.93" y="467.60" width="2.15" height="5.40" fill="#8e0c2e"/>
<rect x="272.93" y="473.00" width="2.15" height="1.70" fill="#8e0c2e"/>
<rect x="274.73" y="466.60" width="2.15" height="6.40" fill="#8e0c2e"/>
<rect x="274.73" y="473.00" width="2.15" height="0.70" fill="#8e0c2e"/>
<rect x="276.32" y="468.00" width="2.15" height="5.00" fill="#8e0c2e"/>
<rect x="280.43" y="456.90" width="2.15" height="16.10" fill="#243b6e"/>
<rect x="280.43" y="454.90" width="2.15" height="2.00" fill="#8e0c2e"/>
<rect x="280.43" y="473.00" width="2.15" height="8.80" fill="#243b6e"/>
<rect x="283.43" y="468.70" width="2.15" height="4.30" fill="#8e0c2e"/>
<rect x="283.43" y="473.00" width="2.15" height="2.00" fill="#8e0c2e"/>
<rect x="290.93" y="464.20" width="2.15" height="8.80" fill="#243b6e"/>
<rect x="290.93" y="473.00" width="2.15" height="12.30" fill="#243b6e"/>
<rect x="296.23" y="467.00" width="2.15" height="6.00" fill="#243b6e"/>
<rect x="296.23" y="465.00" width="2.15" height="2.00" fill="#8e0c2e"/>
<rect x="296.23" y="473.00" width="2.15" height="7.40" fill="#243b6e"/>
<rect x="297.82" y="465.00" width="2.15" height="8.00" fill="#8e0c2e"/>
<rect x="297.82" y="473.00" width="2.15" height="8.80" fill="#243b6e"/>
<rect x="299.53" y="465.80" width="2.15" height="7.20" fill="#243b6e"/>
<rect x="299.53" y="473.00" width="2.15" height="7.80" fill="#243b6e"/>
<rect x="304.03" y="468.20" width="2.15" height="4.80" fill="#243b6e"/>
<rect x="304.03" y="473.00" width="2.15" height="4.80" fill="#243b6e"/>
<rect x="309.03" y="465.00" width="2.15" height="8.00" fill="#8e0c2e"/>
<rect x="309.03" y="473.00" width="2.15" height="11.90" fill="#243b6e"/>
<rect x="311.53" y="467.00" width="2.15" height="6.00" fill="#8e0c2e"/>
<rect x="311.53" y="473.00" width="2.15" height="3.00" fill="#243b6e"/>
<rect x="313.53" y="470.00" width="2.15" height="3.00" fill="#8e0c2e"/>
<rect x="313.53" y="473.00" width="2.15" height="2.00" fill="#8e0c2e"/>
<rect x="319.23" y="466.20" width="2.15" height="6.80" fill="#8e0c2e"/>
<rect x="319.23" y="473.00" width="2.15" height="12.90" fill="#243b6e"/>
<rect x="327.32" y="467.20" width="2.15" height="5.80" fill="#243b6e"/>
<rect x="327.32" y="464.20" width="2.15" height="3.00" fill="#8e0c2e"/>
<rect x="327.32" y="473.00" width="2.15" height="22.00" fill="#243b6e"/>
<rect x="330.32" y="468.70" width="2.15" height="4.30" fill="#8e0c2e"/>
<rect x="330.32" y="473.00" width="2.15" height="1.00" fill="#8e0c2e"/>
<rect x="332.32" y="468.20" width="2.15" height="4.80" fill="#8e0c2e"/>
<rect x="332.32" y="473.00" width="2.15" height="2.10" fill="#8e0c2e"/>
<rect x="337.43" y="468.70" width="2.15" height="4.30" fill="#243b6e"/>
<rect x="337.43" y="473.00" width="2.15" height="11.90" fill="#243b6e"/>
<rect x="345.12" y="470.50" width="2.15" height="2.50" fill="#243b6e"/>
<rect x="345.12" y="473.00" width="2.15" height="2.00" fill="#243b6e"/>
<rect x="348.23" y="455.40" width="2.15" height="17.60" fill="#243b6e"/>
<rect x="348.23" y="453.40" width="2.15" height="2.00" fill="#8e0c2e"/>
<rect x="348.23" y="473.00" width="2.15" height="35.20" fill="#243b6e"/>
<rect x="348.23" y="508.20" width="2.15" height="2.00" fill="#8e0c2e"/>
<rect x="353.23" y="470.50" width="2.15" height="2.50" fill="#8e0c2e"/>
<rect x="353.23" y="473.00" width="2.15" height="1.50" fill="#8e0c2e"/>
<rect x="355.73" y="470.50" width="2.15" height="2.50" fill="#8e0c2e"/>
<rect x="355.73" y="473.00" width="2.15" height="1.50" fill="#8e0c2e"/>
<rect x="357.53" y="470.50" width="2.15" height="2.50" fill="#8e0c2e"/>
<rect x="357.53" y="473.00" width="2.15" height="1.50" fill="#8e0c2e"/>
<rect x="361.03" y="470.00" width="2.15" height="3.00" fill="#8e0c2e"/>
<rect x="361.03" y="473.00" width="2.15" height="1.00" fill="#8e0c2e"/>
<rect x="363.62" y="466.20" width="2.15" height="6.80" fill="#243b6e"/>
<rect x="363.62" y="464.20" width="2.15" height="2.00" fill="#8e0c2e"/>
<rect x="363.62" y="473.00" width="2.15" height="2.10" fill="#243b6e"/>
<rect x="368.53" y="467.60" width="2.15" height="5.40" fill="#243b6e"/>
<rect x="368.53" y="473.00" width="2.15" height="11.50" fill="#243b6e"/>
<rect x="371.12" y="457.00" width="2.15" height="16.00" fill="#243b6e"/>
<rect x="371.12" y="454.00" width="2.15" height="3.00" fill="#8e0c2e"/>
<rect x="371.12" y="473.00" width="2.15" height="39.20" fill="#243b6e"/>
<rect x="376.62" y="470.30" width="2.15" height="2.70" fill="#243b6e"/>
<rect x="376.62" y="473.00" width="2.15" height="2.70" fill="#243b6e"/>
<rect x="381.32" y="469.00" width="2.15" height="4.00" fill="#243b6e"/>
<rect x="381.32" y="473.00" width="2.15" height="6.20" fill="#243b6e"/>
<rect x="389.43" y="466.20" width="2.15" height="6.80" fill="#243b6e"/>
<rect x="389.43" y="473.00" width="2.15" height="8.80" fill="#243b6e"/>
<rect x="392.03" y="469.00" width="2.15" height="4.00" fill="#8e0c2e"/>
<rect x="392.03" y="473.00" width="2.15" height="1.00" fill="#8e0c2e"/>
<rect x="394.43" y="468.20" width="2.15" height="4.80" fill="#8e0c2e"/>
<rect x="396.93" y="469.00" width="2.15" height="4.00" fill="#8e0c2e"/>
<rect x="399.53" y="464.20" width="2.15" height="8.80" fill="#8e0c2e"/>
<rect x="399.53" y="473.00" width="2.15" height="4.80" fill="#243b6e"/>
<rect x="404.62" y="469.70" width="2.15" height="3.30" fill="#243b6e"/>
<rect x="404.62" y="473.00" width="2.15" height="3.80" fill="#243b6e"/>
<rect x="407.03" y="468.20" width="2.15" height="4.80" fill="#8e0c2e"/>
<rect x="407.03" y="473.00" width="2.15" height="3.00" fill="#243b6e"/>
<rect x="409.62" y="469.00" width="2.15" height="4.00" fill="#243b6e"/>
<rect x="409.62" y="473.00" width="2.15" height="2.70" fill="#243b6e"/>
<rect x="415.03" y="469.00" width="2.15" height="4.00" fill="#243b6e"/>
<rect x="415.03" y="473.00" width="2.15" height="2.20" fill="#243b6e"/>
<rect x="415.03" y="475.20" width="2.15" height="2.00" fill="#8e0c2e"/>
<rect x="416.73" y="470.00" width="2.15" height="3.00" fill="#8e0c2e"/>
<rect x="420.23" y="468.20" width="2.15" height="4.80" fill="#243b6e"/>
<rect x="420.23" y="473.00" width="2.15" height="2.70" fill="#243b6e"/>
<rect x="428.23" y="463.60" width="2.15" height="9.40" fill="#243b6e"/>
<rect x="428.23" y="461.60" width="2.15" height="2.00" fill="#8e0c2e"/>
<rect x="428.23" y="473.00" width="2.15" height="10.20" fill="#243b6e"/>
<rect x="430.23" y="465.60" width="2.15" height="7.40" fill="#243b6e"/>
<rect x="430.23" y="473.00" width="2.15" height="9.40" fill="#243b6e"/>
<rect x="433.23" y="470.00" width="2.15" height="3.00" fill="#243b6e"/>
<rect x="433.23" y="473.00" width="2.15" height="3.00" fill="#243b6e"/>
<rect x="443.82" y="468.20" width="2.15" height="4.80" fill="#243b6e"/>
<rect x="443.82" y="473.00" width="2.15" height="6.00" fill="#243b6e"/>
<rect x="443.82" y="479.00" width="2.15" height="2.00" fill="#8e0c2e"/>
<rect x="449.23" y="469.20" width="2.15" height="3.80" fill="#243b6e"/>
<rect x="449.23" y="473.00" width="2.15" height="3.50" fill="#243b6e"/>
<rect x="451.43" y="469.20" width="2.15" height="3.80" fill="#243b6e"/>
<rect x="451.43" y="473.00" width="2.15" height="3.50" fill="#243b6e"/>
<rect x="453.62" y="469.20" width="2.15" height="3.80" fill="#243b6e"/>
<rect x="453.62" y="473.00" width="2.15" height="2.50" fill="#243b6e"/>
<rect x="455.53" y="470.50" width="2.15" height="2.50" fill="#243b6e"/>
<rect x="455.53" y="473.00" width="2.15" height="2.00" fill="#243b6e"/>
<rect x="459.62" y="468.80" width="2.15" height="4.20" fill="#243b6e"/>
<rect x="459.62" y="473.00" width="2.15" height="4.30" fill="#243b6e"/>
<rect x="464.12" y="470.00" width="2.15" height="3.00" fill="#243b6e"/>
<rect x="464.12" y="473.00" width="2.15" height="4.00" fill="#243b6e"/>
<rect x="469.43" y="471.80" width="2.15" height="1.20" fill="#243b6e"/>
<rect x="469.43" y="473.00" width="2.15" height="1.30" fill="#243b6e"/>
<rect x="475.32" y="468.10" width="2.15" height="4.90" fill="#243b6e"/>
<rect x="475.32" y="466.10" width="2.15" height="2.00" fill="#8e0c2e"/>
<rect x="475.32" y="473.00" width="2.15" height="4.20" fill="#243b6e"/>
<rect x="480.73" y="467.10" width="2.15" height="5.90" fill="#243b6e"/>
<rect x="480.73" y="473.00" width="2.15" height="2.00" fill="#243b6e"/>
<rect x="485.82" y="467.10" width="2.15" height="5.90" fill="#243b6e"/>
<rect x="485.82" y="463.10" width="2.15" height="4.00" fill="#8e0c2e"/>
<rect x="485.82" y="473.00" width="2.15" height="4.90" fill="#243b6e"/>
<rect x="490.03" y="460.70" width="2.15" height="12.30" fill="#8e0c2e"/>
<rect x="490.03" y="473.00" width="2.15" height="10.50" fill="#243b6e"/>
<rect x="493.32" y="459.60" width="2.15" height="13.40" fill="#8e0c2e"/>
<rect x="494.93" y="460.50" width="2.15" height="12.50" fill="#8e0c2e"/>
<rect x="499.43" y="471.50" width="2.15" height="1.50" fill="#243b6e"/>
<rect x="499.43" y="473.00" width="2.15" height="1.00" fill="#243b6e"/>
<path d="M28.60,443.90 V441.30 H80.10 V443.90" stroke="#111" stroke-width="1.25" fill="none"/>
<text x="57.00" y="439.20" font-size="4.0" fill="#222" textLength="12.2" lengthAdjust="spacingAndGlyphs" class="lt">17.1%</text>
<path d="M28.60,451.00 V448.40 H53.00 V451.00" stroke="#111" stroke-width="1.25" fill="none"/>
<text x="56.40" y="450.80" font-size="4.0" fill="#222" textLength="11.6" lengthAdjust="spacingAndGlyphs" class="lt">10.9%</text>
<path d="M28.60,510.20 V512.80 H53.00 V510.20" stroke="#111" stroke-width="1.25" fill="none"/>
<text x="56.40" y="512.60" font-size="4.0" fill="#222" textLength="11.6" lengthAdjust="spacingAndGlyphs" class="lt">12.3%</text>
<path d="M28.60,517.10 V519.70 H80.10 V517.10" stroke="#111" stroke-width="1.25" fill="none"/>
<text x="80.00" y="521.20" font-size="4.0" fill="#222" textLength="12" lengthAdjust="spacingAndGlyphs" class="lt">33.9%</text>
<path d="M448.20,442.20 V439.60 H502.20 V442.20" stroke="#111" stroke-width="1.25" fill="none"/>
<text x="451.30" y="444.10" font-size="4.0" fill="#222" textLength="8.7" lengthAdjust="spacingAndGlyphs" class="lt">8.9%</text>
<path d="M477.00,448.10 V445.50 H502.20 V448.10" stroke="#111" stroke-width="1.25" fill="none"/>
<text x="484.10" y="451.10" font-size="4.0" fill="#222" textLength="9.4" lengthAdjust="spacingAndGlyphs" class="lt">4.7%</text>
<path d="M477.00,501.10 V503.70 H502.20 V501.10" stroke="#111" stroke-width="1.25" fill="none"/>
<text x="483.40" y="502.70" font-size="4.0" fill="#222" textLength="9.6" lengthAdjust="spacingAndGlyphs" class="lt">2.9%</text>
<path d="M448.20,506.20 V508.80 H502.20 V506.20" stroke="#111" stroke-width="1.25" fill="none"/>
<text x="451.30" y="514.90" font-size="4.0" fill="#222" textLength="8.7" lengthAdjust="spacingAndGlyphs" class="lt">5.1%</text>
<text class="lt" x="55.00" y="491.47" font-size="4.2">V<tspan font-size="2.94" dy="1.3">H</tspan><tspan dy="-1.3">1-80</tspan></text>
<line x1="53.60" y1="489.50" x2="51.50" y2="489.12" stroke="#111" stroke-width="1.0"/>
<path d="M48.60,488.60 L52.11,487.45 L51.49,490.90 Z" fill="#111"/>
<text class="lt" x="28.00" y="498.07" font-size="4.2">V<tspan font-size="2.94" dy="1.3">H</tspan><tspan dy="-1.3">1-42</tspan></text>
<line x1="37.00" y1="493.50" x2="38.69" y2="491.33" stroke="#111" stroke-width="1.0"/>
<path d="M40.50,489.00 L39.89,492.64 L37.12,490.49 Z" fill="#111"/>
<text class="lt" x="53.00" y="500.47" font-size="4.2">V<tspan font-size="2.94" dy="1.3">H</tspan><tspan dy="-1.3">1-81</tspan></text>
<line x1="52.50" y1="501.50" x2="48.68" y2="503.26" stroke="#111" stroke-width="1.0"/>
<path d="M46.00,504.50 L48.22,501.55 L49.68,504.73 Z" fill="#111"/>
<text class="lt" x="86.00" y="509.77" font-size="4.2">V<tspan font-size="2.94" dy="1.3">H</tspan><tspan dy="-1.3">1-72</tspan></text>
<line x1="86.00" y1="504.20" x2="83.88" y2="502.47" stroke="#111" stroke-width="1.0"/>
<path d="M81.60,500.60 L85.22,501.30 L83.01,504.01 Z" fill="#111"/>
<text class="lt" x="114.00" y="511.67" font-size="4.2">V<tspan font-size="2.94" dy="1.3">H</tspan><tspan dy="-1.3">1-64</tspan></text>
<line x1="112.50" y1="507.50" x2="110.59" y2="505.59" stroke="#111" stroke-width="1.0"/>
<path d="M108.50,503.50 L112.04,504.56 L109.56,507.04 Z" fill="#111"/>
<text class="lt" x="113.00" y="495.47" font-size="4.2">V<tspan font-size="2.94" dy="1.3">H</tspan><tspan dy="-1.3">8-8</tspan></text>
<line x1="127.00" y1="491.50" x2="129.70" y2="489.34" stroke="#111" stroke-width="1.0"/>
<path d="M132.00,487.50 L130.56,490.90 L128.37,488.16 Z" fill="#111"/>
<text class="lt" x="150.00" y="503.47" font-size="4.2">V<tspan font-size="2.94" dy="1.3">H</tspan><tspan dy="-1.3">1-53</tspan></text>
<line x1="150.50" y1="497.50" x2="147.97" y2="494.69" stroke="#111" stroke-width="1.0"/>
<path d="M146.00,492.50 L149.47,493.75 L146.87,496.09 Z" fill="#111"/>
<text class="lt" x="163.00" y="496.47" font-size="4.2">V<tspan font-size="2.94" dy="1.3">H</tspan><tspan dy="-1.3">1-55</tspan></text>
<line x1="162.50" y1="491.50" x2="159.05" y2="489.49" stroke="#111" stroke-width="1.0"/>
<path d="M156.50,488.00 L160.19,488.13 L158.43,491.15 Z" fill="#111"/>
<text class="lt" x="200.00" y="501.47" font-size="4.2">V<tspan font-size="2.94" dy="1.3">H</tspan><tspan dy="-1.3">1-39</tspan></text>
<line x1="200.50" y1="496.50" x2="198.49" y2="493.05" stroke="#111" stroke-width="1.0"/>
<path d="M197.00,490.50 L200.15,492.43 L197.13,494.19 Z" fill="#111"/>
<text class="lt" x="233.00" y="506.17" font-size="4.2">V<tspan font-size="2.94" dy="1.3">H</tspan><tspan dy="-1.3">1-22</tspan></text>
<line x1="240.30" y1="499.50" x2="240.30" y2="496.45" stroke="#111" stroke-width="1.0"/>
<path d="M240.30,493.50 L242.05,496.75 L238.55,496.75 Z" fill="#111"/>
<text class="lt" x="241.00" y="518.77" font-size="4.2">V<tspan font-size="2.94" dy="1.3">H</tspan><tspan dy="-1.3">1-24</tspan></text>
<line x1="240.00" y1="515.00" x2="236.98" y2="511.68" stroke="#111" stroke-width="1.0"/>
<path d="M235.00,509.50 L238.48,510.73 L235.89,513.08 Z" fill="#111"/>
<text class="lt" x="254.00" y="507.47" font-size="4.2">V<tspan font-size="2.94" dy="1.3">H</tspan><tspan dy="-1.3">1-19</tspan></text>
<line x1="255.00" y1="502.00" x2="253.51" y2="499.90" stroke="#111" stroke-width="1.0"/>
<path d="M251.80,497.50 L255.11,499.13 L252.26,501.16 Z" fill="#111"/>
<text class="lt" x="267.00" y="501.67" font-size="4.2">V<tspan font-size="2.94" dy="1.3">H</tspan><tspan dy="-1.3">1-18</tspan></text>
<line x1="266.00" y1="498.00" x2="261.71" y2="496.16" stroke="#111" stroke-width="1.0"/>
<path d="M259.00,495.00 L262.68,494.67 L261.30,497.89 Z" fill="#111"/>
<text class="lt" x="307.00" y="504.17" font-size="4.2">V<tspan font-size="2.94" dy="1.3">H</tspan><tspan dy="-1.3">8-3</tspan></text>
<line x1="321.50" y1="500.00" x2="324.20" y2="497.84" stroke="#111" stroke-width="1.0"/>
<path d="M326.50,496.00 L325.06,499.40 L322.87,496.66 Z" fill="#111"/>
<text class="lt" x="328.00" y="518.37" font-size="4.2">V<tspan font-size="2.94" dy="1.3">H</tspan><tspan dy="-1.3">2-4</tspan></text>
<line x1="341.50" y1="515.00" x2="345.14" y2="512.27" stroke="#111" stroke-width="1.0"/>
<path d="M347.50,510.50 L345.95,513.85 L343.85,511.05 Z" fill="#111"/>
<text class="lt" x="384.00" y="515.77" font-size="4.2">V<tspan font-size="2.94" dy="1.3">H</tspan><tspan dy="-1.3">8-2</tspan></text>
<line x1="383.00" y1="513.00" x2="378.44" y2="512.70" stroke="#111" stroke-width="1.0"/>
<path d="M375.50,512.50 L378.86,510.97 L378.63,514.46 Z" fill="#111"/>
<text class="lt" x="455.60" y="459.97" font-size="4.2">V<tspan font-size="2.94" dy="1.3">H</tspan><tspan dy="-1.3">5-6</tspan></text>
<line x1="467.00" y1="460.50" x2="472.05" y2="463.86" stroke="#111" stroke-width="1.0"/>
<path d="M474.50,465.50 L470.83,465.15 L472.77,462.24 Z" fill="#111"/>
<text class="lt" x="478.00" y="456.87" font-size="4.2">V<tspan font-size="2.94" dy="1.3">H</tspan><tspan dy="-1.3">5-2</tspan></text>
<text class="lt" x="468.20" y="485.67" font-size="4.2">V<tspan font-size="2.94" dy="1.3">H</tspan><tspan dy="-1.3">5-4</tspan></text>
<line x1="477.00" y1="482.00" x2="482.50" y2="478.56" stroke="#111" stroke-width="1.0"/>
<path d="M485.00,477.00 L483.17,480.21 L481.32,477.24 Z" fill="#111"/>
<text class="lt" x="472.80" y="491.97" font-size="4.2">V<tspan font-size="2.94" dy="1.3">H</tspan><tspan dy="-1.3">2-2</tspan></text>
<line x1="484.50" y1="488.50" x2="487.72" y2="485.87" stroke="#111" stroke-width="1.0"/>
<path d="M490.00,484.00 L488.59,487.41 L486.38,484.70 Z" fill="#111"/>
<line x1="120.60" y1="425.70" x2="128.80" y2="425.70" stroke="#243b6e" stroke-width="2.0"/>
<text x="132.10" y="427.59" font-size="5.4" font-style="italic" fill="#222" textLength="25" lengthAdjust="spacingAndGlyphs" class="lt">productive</text>
<line x1="350.20" y1="425.70" x2="358.60" y2="425.70" stroke="#8e0c2e" stroke-width="2.0"/>
<text x="362.90" y="427.59" font-size="5.4" font-style="italic" fill="#222" textLength="36" lengthAdjust="spacingAndGlyphs" class="lt">non-productive</text>
<text class="ns" x="206.3" y="428.00" font-size="7" textLength="117.4" lengthAdjust="spacingAndGlyphs">WT IgM<tspan font-size="4.5" dy="-2.5">+</tspan><tspan dy="2.5"> splenic B cells </tspan><tspan font-style="italic">IghV</tspan> genes</text>
<text class="ns" x="199.8" y="534.80" font-size="7" textLength="128.7" lengthAdjust="spacingAndGlyphs">R972Q IgM<tspan font-size="4.5" dy="-2.5">+</tspan><tspan dy="2.5"> splenic B cells </tspan><tspan font-style="italic">IghV</tspan> genes</text>
<text x="28.50" y="534.05" font-size="7" fill="#222" textLength="15" lengthAdjust="spacingAndGlyphs" class="ns">distal</text>
<text x="477.50" y="533.05" font-size="7" fill="#222" textLength="23.5" lengthAdjust="spacingAndGlyphs" class="ns">proximal</text>
</svg></body></html>
